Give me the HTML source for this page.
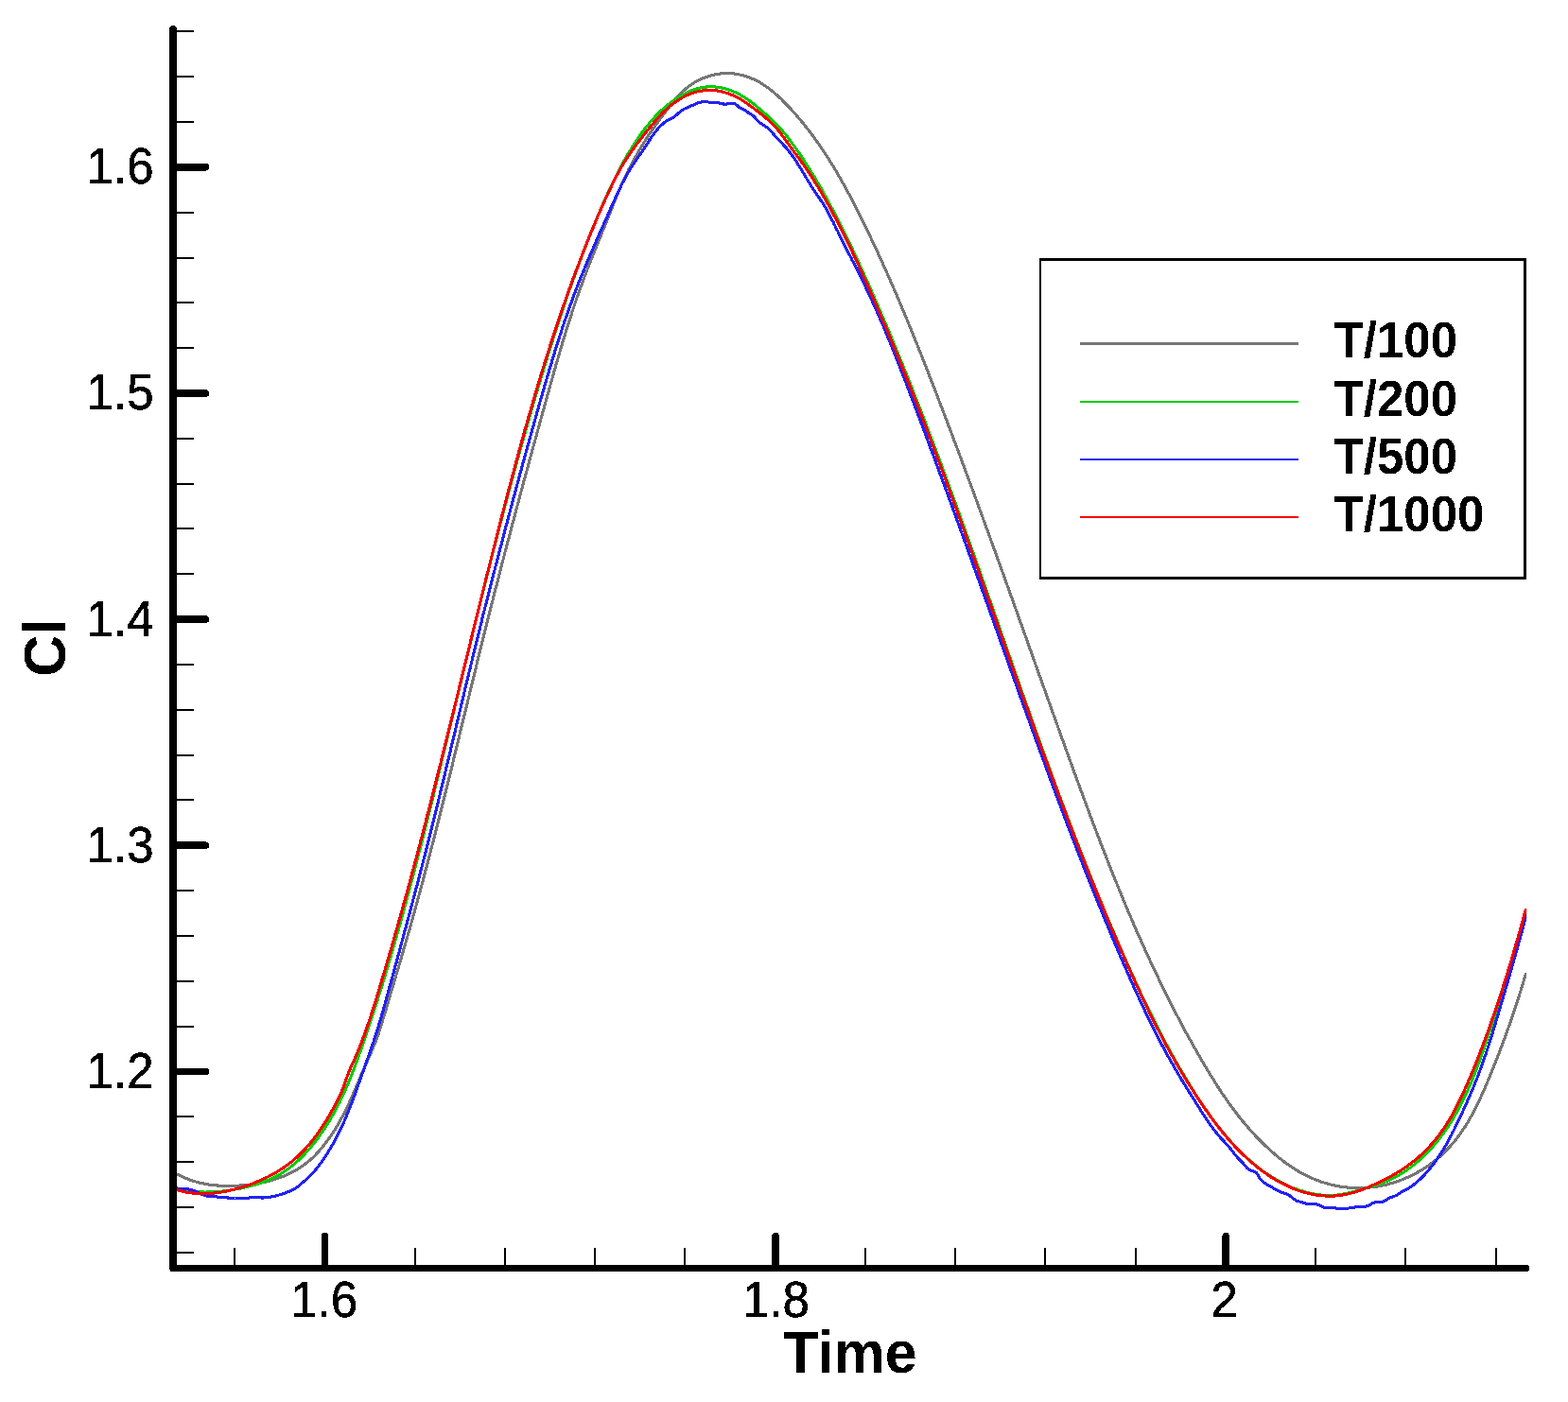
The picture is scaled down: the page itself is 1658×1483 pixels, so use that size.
<!DOCTYPE html>
<html lang="en">
<head>
<meta charset="utf-8">
<title>Cl vs Time</title>
<style>
html,body{margin:0;padding:0;background:#fff;}
body{width:1658px;height:1483px;overflow:hidden;}
svg{display:block;}
text{font-family:"Liberation Sans",Arial,Helvetica,sans-serif;fill:#000;}
.tk{font-size:51px;stroke:#000;stroke-width:0.5px;}
.ttl{font-size:61px;font-weight:bold;}
.lg{font-size:51px;font-weight:bold;}
</style>
</head>
<body>
<svg width="1658" height="1483" viewBox="0 0 1658 1483">
<rect x="0" y="0" width="1658" height="1483" fill="#ffffff"/>
<defs><filter id="crisp" x="-5%" y="-5%" width="110%" height="110%" color-interpolation-filters="sRGB"><feComponentTransfer><feFuncA type="discrete" tableValues="0 1"/></feComponentTransfer></filter></defs>
<defs><clipPath id="plotclip"><rect x="186.5" y="20" width="1427.7" height="1325"/></clipPath></defs>
<g fill="none" stroke-linejoin="round" stroke-linecap="butt" clip-path="url(#plotclip)" shape-rendering="crispEdges">
<path stroke="#767676" stroke-width="3.1" d="M186.9 1241.8L189.2 1243.0L191.5 1244.1L193.8 1245.2L196.1 1246.2L198.5 1247.1L200.8 1248.0L203.2 1248.8L205.6 1249.6L208.0 1250.3L210.4 1250.9L212.8 1251.5L215.2 1252.0L217.6 1252.4L220.1 1252.9L222.5 1253.2L225.0 1253.5L227.4 1253.8L229.9 1254.0L232.4 1254.2L234.8 1254.3L237.3 1254.4L239.8 1254.5L242.3 1254.5L244.8 1254.4L247.3 1254.4L249.8 1254.3L252.3 1254.1L254.8 1254.0L257.3 1253.8L259.9 1253.5L262.4 1253.3L264.9 1253.0L267.4 1252.6L269.9 1252.3L272.4 1251.8L274.8 1251.4L277.3 1250.9L279.8 1250.4L282.2 1249.8L284.7 1249.2L287.1 1248.5L289.5 1247.8L291.9 1247.0L294.3 1246.2L296.6 1245.4L298.9 1244.5L301.2 1243.6L303.5 1242.6L305.8 1241.5L308.0 1240.5L310.2 1239.3L312.3 1238.1L314.5 1236.9L316.6 1235.6L318.6 1234.2L320.7 1232.8L322.7 1231.3L324.6 1229.8L326.5 1228.2L328.4 1226.6L330.3 1224.9L332.1 1223.2L333.8 1221.4L335.5 1219.6L337.2 1217.7L338.9 1215.8L340.5 1213.9L342.1 1211.9L343.6 1209.9L345.1 1207.9L346.6 1205.9L348.1 1203.9L349.5 1201.8L350.9 1199.8L352.3 1197.7L353.7 1195.6L355.0 1193.5L356.3 1191.3L357.6 1189.2L358.8 1187.0L360.0 1184.8L361.2 1182.6L362.4 1180.4L363.5 1178.2L364.7 1176.0L365.8 1173.8L366.9 1171.5L367.9 1169.3L369.0 1167.0L370.0 1164.7L371.1 1162.5L372.1 1160.2L373.1 1157.9L374.1 1155.6L375.1 1153.3L376.1 1151.0L377.1 1148.7L378.1 1146.4L379.0 1144.1L380.0 1141.8L381.0 1139.5L381.9 1137.2L382.9 1134.9L383.9 1132.6L384.9 1130.3L385.9 1128.0L386.9 1125.7L387.9 1123.4L388.9 1121.2L389.9 1118.9L390.9 1116.6L391.9 1114.4L392.9 1112.1L393.9 1109.8L394.8 1107.5L395.8 1105.2L396.7 1103.0L397.6 1100.6L398.5 1098.3L399.3 1096.0L400.2 1093.7L400.9 1091.3L401.7 1089.0L402.5 1086.6L403.2 1084.2L403.9 1081.9L404.6 1079.5L405.3 1077.1L406.0 1074.7L406.7 1072.3L407.5 1069.9L408.2 1067.5L408.9 1065.1L409.6 1062.8L410.3 1060.4L411.0 1058.0L411.7 1055.6L412.4 1053.2L413.1 1050.8L413.8 1048.4L414.6 1046.0L415.3 1043.6L416.0 1041.2L416.7 1038.8L417.4 1036.4L418.1 1034.0L418.8 1031.7L419.6 1029.3L420.3 1026.9L421.0 1024.5L421.7 1022.1L422.4 1019.7L423.1 1017.3L423.8 1014.9L424.5 1012.5L425.2 1010.1L425.9 1007.7L426.6 1005.3L427.3 1002.9L428.0 1000.5L428.7 998.1L429.4 995.7L430.1 993.3L430.8 990.8L431.5 988.4L432.2 986.0L432.9 983.6L433.6 981.2L434.2 978.8L434.9 976.4L435.6 974.0L436.3 971.6L436.9 969.2L437.6 966.8L438.3 964.4L438.9 962.0L439.6 959.5L440.3 957.1L440.9 954.7L441.6 952.3L442.2 949.9L442.9 947.5L443.6 945.1L444.2 942.7L444.9 940.2L445.5 937.8L446.2 935.4L446.8 933.0L447.5 930.6L448.1 928.2L448.7 925.7L449.4 923.3L450.0 920.9L450.7 918.5L451.3 916.1L451.9 913.7L452.6 911.2L453.2 908.8L453.8 906.4L454.4 904.0L455.1 901.6L455.7 899.1L456.3 896.7L456.9 894.3L457.6 891.9L458.2 889.4L458.8 887.0L459.4 884.6L460.0 882.2L460.7 879.8L461.3 877.3L461.9 874.9L462.5 872.5L463.1 870.1L463.7 867.6L464.3 865.2L465.0 862.8L465.6 860.4L466.2 857.9L466.8 855.5L467.4 853.1L468.0 850.7L468.6 848.2L469.2 845.8L469.8 843.4L470.4 841.0L471.0 838.5L471.6 836.1L472.2 833.7L472.8 831.2L473.4 828.8L474.0 826.4L474.6 824.0L475.2 821.5L475.8 819.1L476.4 816.7L477.0 814.2L477.6 811.8L478.2 809.4L478.8 807.0L479.3 804.5L479.9 802.1L480.5 799.7L481.1 797.2L481.7 794.8L482.3 792.4L482.9 790.0L483.5 787.5L484.1 785.1L484.7 782.7L485.3 780.2L485.8 777.8L486.4 775.4L487.0 772.9L487.6 770.5L488.2 768.1L488.8 765.7L489.4 763.2L490.0 760.8L490.6 758.4L491.2 755.9L491.7 753.5L492.3 751.1L492.9 748.7L493.5 746.2L494.1 743.8L494.7 741.4L495.3 738.9L495.9 736.5L496.5 734.1L497.0 731.6L497.6 729.2L498.2 726.8L498.8 724.4L499.4 721.9L500.0 719.5L500.6 717.1L501.2 714.6L501.8 712.2L502.4 709.8L503.0 707.4L503.6 704.9L504.1 702.5L504.7 700.1L505.3 697.6L505.9 695.2L506.5 692.8L507.1 690.4L507.7 687.9L508.3 685.5L508.9 683.1L509.5 680.6L510.1 678.2L510.7 675.8L511.3 673.4L511.9 670.9L512.5 668.5L513.1 666.1L513.7 663.7L514.3 661.2L514.9 658.8L515.6 656.4L516.2 654.0L516.8 651.5L517.4 649.1L518.0 646.7L518.6 644.3L519.2 641.8L519.8 639.4L520.4 637.0L521.1 634.6L521.7 632.2L522.3 629.7L522.9 627.3L523.5 624.9L524.1 622.5L524.8 620.0L525.4 617.6L526.0 615.2L526.6 612.8L527.2 610.4L527.9 607.9L528.5 605.5L529.1 603.1L529.7 600.7L530.4 598.3L531.0 595.8L531.6 593.4L532.3 591.0L532.9 588.6L533.5 586.2L534.1 583.7L534.8 581.3L535.4 578.9L536.0 576.5L536.7 574.1L537.3 571.7L538.0 569.2L538.6 566.8L539.2 564.4L539.9 562.0L540.5 559.6L541.1 557.1L541.8 554.7L542.4 552.3L543.1 549.9L543.7 547.5L544.3 545.1L545.0 542.6L545.6 540.2L546.3 537.8L546.9 535.4L547.6 533.0L548.2 530.6L548.9 528.2L549.5 525.7L550.1 523.3L550.8 520.9L551.4 518.5L552.1 516.1L552.7 513.7L553.4 511.2L554.0 508.8L554.7 506.4L555.4 504.0L556.0 501.6L556.7 499.2L557.3 496.8L558.0 494.4L558.6 491.9L559.3 489.5L559.9 487.1L560.6 484.7L561.2 482.3L561.9 479.9L562.6 477.5L563.2 475.0L563.9 472.6L564.5 470.2L565.2 467.8L565.9 465.4L566.5 463.0L567.2 460.6L567.9 458.2L568.5 455.7L569.2 453.3L569.8 450.9L570.5 448.5L571.2 446.1L571.8 443.7L572.5 441.3L573.2 438.9L573.8 436.4L574.5 434.0L575.2 431.6L575.8 429.2L576.5 426.8L577.2 424.4L577.8 422.0L578.5 419.6L579.2 417.2L579.9 414.7L580.5 412.3L581.2 409.9L581.9 407.5L582.5 405.1L583.2 402.7L583.9 400.3L584.6 397.9L585.3 395.5L585.9 393.1L586.6 390.6L587.3 388.2L588.0 385.8L588.7 383.4L589.4 381.0L590.1 378.6L590.8 376.2L591.5 373.8L592.2 371.4L592.9 369.0L593.6 366.6L594.3 364.2L595.0 361.8L595.7 359.4L596.5 357.0L597.2 354.6L597.9 352.3L598.7 349.9L599.4 347.5L600.2 345.1L600.9 342.7L601.7 340.3L602.4 337.9L603.2 335.6L604.0 333.2L604.7 330.8L605.5 328.4L606.3 326.1L607.1 323.7L607.9 321.3L608.7 319.0L609.5 316.6L610.3 314.2L611.1 311.9L612.0 309.5L612.8 307.2L613.6 304.8L614.5 302.5L615.4 300.1L616.2 297.8L617.1 295.4L618.0 293.1L618.9 290.8L619.7 288.4L620.6 286.1L621.5 283.8L622.4 281.4L623.4 279.1L624.3 276.8L625.2 274.5L626.1 272.1L627.0 269.8L628.0 267.5L628.9 265.2L629.8 262.9L630.8 260.5L631.7 258.2L632.6 255.9L633.6 253.6L634.5 251.3L635.5 249.0L636.4 246.6L637.3 244.3L638.3 242.0L639.2 239.7L640.2 237.4L641.1 235.0L642.0 232.7L643.0 230.4L643.9 228.1L644.8 225.7L645.7 223.4L646.7 221.1L647.6 218.8L648.5 216.4L649.4 214.1L650.3 211.8L651.3 209.4L652.2 207.1L653.2 204.8L654.1 202.5L655.1 200.2L656.1 197.9L657.1 195.6L658.1 193.3L659.1 191.1L660.2 188.8L661.3 186.5L662.4 184.3L663.5 182.0L664.6 179.8L665.7 177.6L666.9 175.4L668.0 173.2L669.2 171.0L670.4 168.8L671.6 166.6L672.8 164.4L674.1 162.3L675.3 160.1L676.6 158.0L677.9 155.8L679.2 153.7L680.5 151.6L681.8 149.4L683.2 147.3L684.5 145.2L685.9 143.1L687.3 141.1L688.7 139.0L690.1 136.9L691.5 134.9L693.0 132.8L694.4 130.8L695.9 128.7L697.4 126.7L698.8 124.7L700.3 122.7L701.8 120.7L703.3 118.7L704.9 116.7L706.4 114.7L707.9 112.8L709.5 110.8L711.0 108.9L712.6 106.9L714.2 105.0L715.8 103.2L717.4 101.3L719.1 99.5L720.9 97.8L722.7 96.1L724.5 94.4L726.4 92.9L728.4 91.3L730.4 89.9L732.5 88.5L734.6 87.2L736.8 85.9L739.1 84.8L741.3 83.7L743.6 82.7L746.0 81.8L748.4 80.9L750.8 80.2L753.2 79.5L755.6 79.0L758.1 78.5L760.6 78.1L763.1 77.8L765.6 77.6L768.1 77.6L770.6 77.6L773.1 77.7L775.6 77.9L778.0 78.2L780.5 78.7L783.0 79.2L785.4 79.8L787.8 80.4L790.2 81.2L792.5 82.1L794.9 83.0L797.2 84.0L799.4 85.1L801.6 86.2L803.8 87.4L806.0 88.7L808.0 90.1L810.1 91.5L812.1 92.9L814.1 94.4L816.1 96.0L818.0 97.6L819.9 99.2L821.8 100.9L823.6 102.6L825.5 104.3L827.3 106.1L829.0 107.9L830.8 109.7L832.5 111.5L834.3 113.3L836.0 115.1L837.7 117.0L839.4 118.8L841.0 120.7L842.7 122.6L844.3 124.5L845.9 126.4L847.5 128.3L849.1 130.2L850.6 132.2L852.2 134.1L853.7 136.1L855.3 138.1L856.8 140.0L858.3 142.0L859.8 144.0L861.2 146.1L862.7 148.1L864.1 150.1L865.6 152.1L867.0 154.2L868.4 156.2L869.8 158.3L871.2 160.4L872.5 162.5L873.9 164.6L875.2 166.7L876.6 168.8L877.9 170.9L879.2 173.0L880.5 175.1L881.8 177.3L883.1 179.4L884.4 181.5L885.6 183.7L886.9 185.9L888.1 188.0L889.4 190.2L890.6 192.4L891.8 194.5L893.0 196.7L894.2 198.9L895.4 201.1L896.6 203.3L897.8 205.5L899.0 207.7L900.2 210.0L901.3 212.2L902.5 214.4L903.6 216.6L904.8 218.9L905.9 221.1L907.0 223.3L908.2 225.6L909.3 227.8L910.4 230.1L911.5 232.3L912.6 234.5L913.7 236.8L914.8 239.0L915.9 241.3L917.0 243.6L918.1 245.8L919.2 248.1L920.2 250.3L921.3 252.6L922.4 254.9L923.4 257.1L924.5 259.4L925.6 261.7L926.6 263.9L927.7 266.2L928.7 268.5L929.8 270.7L930.8 273.0L931.8 275.3L932.9 277.6L933.9 279.9L934.9 282.1L935.9 284.4L937.0 286.7L938.0 289.0L939.0 291.3L940.0 293.6L941.0 295.9L942.0 298.1L943.0 300.4L944.0 302.7L945.0 305.0L946.0 307.3L947.0 309.6L948.0 311.9L949.0 314.2L949.9 316.5L950.9 318.8L951.9 321.1L952.9 323.4L953.8 325.7L954.8 328.0L955.8 330.3L956.7 332.6L957.7 334.9L958.7 337.3L959.6 339.6L960.6 341.9L961.5 344.2L962.5 346.5L963.4 348.8L964.3 351.1L965.3 353.4L966.2 355.8L967.2 358.1L968.1 360.4L969.0 362.7L970.0 365.0L970.9 367.4L971.8 369.7L972.8 372.0L973.7 374.3L974.6 376.6L975.5 379.0L976.4 381.3L977.4 383.6L978.3 385.9L979.2 388.3L980.1 390.6L981.0 392.9L981.9 395.2L982.8 397.6L983.7 399.9L984.6 402.2L985.5 404.6L986.5 406.9L987.4 409.2L988.3 411.6L989.2 413.9L990.1 416.2L991.0 418.6L991.8 420.9L992.7 423.2L993.6 425.6L994.5 427.9L995.4 430.2L996.3 432.6L997.2 434.9L998.1 437.2L999.0 439.6L999.9 441.9L1000.8 444.2L1001.7 446.6L1002.5 448.9L1003.4 451.2L1004.3 453.6L1005.2 455.9L1006.1 458.3L1007.0 460.6L1007.8 462.9L1008.7 465.3L1009.6 467.6L1010.5 470.0L1011.4 472.3L1012.2 474.6L1013.1 477.0L1014.0 479.3L1014.9 481.7L1015.7 484.0L1016.6 486.3L1017.5 488.7L1018.3 491.0L1019.2 493.4L1020.1 495.7L1021.0 498.1L1021.8 500.4L1022.7 502.7L1023.6 505.1L1024.4 507.4L1025.3 509.8L1026.2 512.1L1027.0 514.5L1027.9 516.8L1028.8 519.1L1029.6 521.5L1030.5 523.8L1031.3 526.2L1032.2 528.5L1033.1 530.9L1033.9 533.2L1034.8 535.6L1035.6 537.9L1036.5 540.3L1037.4 542.6L1038.2 545.0L1039.1 547.3L1039.9 549.7L1040.8 552.0L1041.6 554.4L1042.5 556.7L1043.4 559.1L1044.2 561.4L1045.1 563.8L1045.9 566.1L1046.8 568.5L1047.6 570.8L1048.5 573.2L1049.3 575.5L1050.2 577.9L1051.0 580.2L1051.9 582.6L1052.7 584.9L1053.6 587.3L1054.4 589.6L1055.3 592.0L1056.1 594.3L1057.0 596.7L1057.8 599.0L1058.7 601.4L1059.5 603.7L1060.4 606.1L1061.2 608.4L1062.1 610.8L1062.9 613.1L1063.7 615.5L1064.6 617.8L1065.4 620.2L1066.3 622.5L1067.1 624.9L1068.0 627.2L1068.8 629.6L1069.7 631.9L1070.5 634.3L1071.3 636.7L1072.2 639.0L1073.0 641.4L1073.9 643.7L1074.7 646.1L1075.6 648.4L1076.4 650.8L1077.2 653.1L1078.1 655.5L1078.9 657.8L1079.8 660.2L1080.6 662.6L1081.5 664.9L1082.3 667.3L1083.1 669.6L1084.0 672.0L1084.8 674.3L1085.7 676.7L1086.5 679.0L1087.3 681.4L1088.2 683.7L1089.0 686.1L1089.9 688.5L1090.7 690.8L1091.5 693.2L1092.4 695.5L1093.2 697.9L1094.1 700.2L1094.9 702.6L1095.7 704.9L1096.6 707.3L1097.4 709.7L1098.3 712.0L1099.1 714.4L1100.0 716.7L1100.8 719.1L1101.6 721.4L1102.5 723.8L1103.3 726.1L1104.2 728.5L1105.0 730.9L1105.8 733.2L1106.7 735.6L1107.5 737.9L1108.4 740.3L1109.2 742.6L1110.1 745.0L1110.9 747.3L1111.7 749.7L1112.6 752.1L1113.4 754.4L1114.3 756.8L1115.1 759.1L1116.0 761.5L1116.8 763.8L1117.7 766.2L1118.5 768.5L1119.3 770.9L1120.2 773.3L1121.0 775.6L1121.9 778.0L1122.7 780.3L1123.6 782.7L1124.4 785.0L1125.3 787.4L1126.1 789.7L1127.0 792.1L1127.8 794.4L1128.7 796.8L1129.5 799.2L1130.4 801.5L1131.2 803.9L1132.1 806.2L1132.9 808.6L1133.8 810.9L1134.6 813.3L1135.5 815.6L1136.3 818.0L1137.2 820.3L1138.1 822.7L1138.9 825.0L1139.8 827.4L1140.6 829.7L1141.5 832.1L1142.4 834.4L1143.2 836.8L1144.1 839.1L1145.0 841.5L1145.8 843.8L1146.7 846.2L1147.6 848.5L1148.4 850.9L1149.3 853.2L1150.2 855.5L1151.0 857.9L1151.9 860.2L1152.8 862.6L1153.7 864.9L1154.6 867.3L1155.4 869.6L1156.3 871.9L1157.2 874.3L1158.1 876.6L1159.0 879.0L1159.9 881.3L1160.8 883.6L1161.7 886.0L1162.6 888.3L1163.4 890.6L1164.3 893.0L1165.2 895.3L1166.2 897.6L1167.1 900.0L1168.0 902.3L1168.9 904.6L1169.8 907.0L1170.7 909.3L1171.6 911.6L1172.5 913.9L1173.5 916.3L1174.4 918.6L1175.3 920.9L1176.2 923.2L1177.2 925.5L1178.1 927.9L1179.0 930.2L1180.0 932.5L1180.9 934.8L1181.8 937.1L1182.8 939.4L1183.7 941.8L1184.7 944.1L1185.6 946.4L1186.6 948.7L1187.5 951.0L1188.5 953.3L1189.5 955.6L1190.4 957.9L1191.4 960.2L1192.4 962.5L1193.3 964.8L1194.3 967.1L1195.3 969.4L1196.3 971.7L1197.3 974.0L1198.2 976.3L1199.2 978.6L1200.2 980.9L1201.2 983.2L1202.2 985.5L1203.2 987.8L1204.2 990.0L1205.3 992.3L1206.3 994.6L1207.3 996.9L1208.3 999.2L1209.3 1001.4L1210.4 1003.7L1211.4 1006.0L1212.4 1008.3L1213.5 1010.5L1214.5 1012.8L1215.6 1015.1L1216.6 1017.3L1217.7 1019.6L1218.7 1021.9L1219.8 1024.1L1220.9 1026.4L1221.9 1028.6L1223.0 1030.9L1224.1 1033.1L1225.2 1035.4L1226.2 1037.6L1227.3 1039.9L1228.4 1042.1L1229.5 1044.4L1230.6 1046.6L1231.7 1048.9L1232.8 1051.1L1233.9 1053.3L1235.1 1055.6L1236.2 1057.8L1237.3 1060.0L1238.4 1062.3L1239.6 1064.5L1240.7 1066.7L1241.9 1069.0L1243.0 1071.2L1244.2 1073.4L1245.3 1075.6L1246.5 1077.8L1247.6 1080.0L1248.8 1082.2L1250.0 1084.5L1251.2 1086.7L1252.4 1088.9L1253.5 1091.1L1254.7 1093.3L1255.9 1095.5L1257.1 1097.7L1258.4 1099.8L1259.6 1102.0L1260.8 1104.2L1262.0 1106.4L1263.2 1108.6L1264.5 1110.8L1265.7 1113.0L1267.0 1115.1L1268.2 1117.3L1269.5 1119.5L1270.7 1121.6L1272.0 1123.8L1273.3 1126.0L1274.5 1128.1L1275.8 1130.3L1277.1 1132.4L1278.4 1134.6L1279.7 1136.7L1281.0 1138.9L1282.4 1141.0L1283.7 1143.1L1285.0 1145.3L1286.4 1147.4L1287.7 1149.5L1289.1 1151.6L1290.5 1153.7L1291.8 1155.8L1293.2 1157.8L1294.6 1159.9L1296.1 1162.0L1297.5 1164.0L1298.9 1166.1L1300.4 1168.1L1301.8 1170.1L1303.3 1172.1L1304.8 1174.1L1306.3 1176.1L1307.8 1178.1L1309.3 1180.1L1310.9 1182.0L1312.4 1184.0L1314.0 1185.9L1315.6 1187.8L1317.2 1189.8L1318.8 1191.6L1320.4 1193.5L1322.0 1195.4L1323.7 1197.2L1325.4 1199.1L1327.1 1200.9L1328.8 1202.7L1330.5 1204.5L1332.2 1206.3L1334.0 1208.0L1335.8 1209.8L1337.6 1211.5L1339.4 1213.2L1341.2 1214.9L1343.1 1216.6L1344.9 1218.3L1346.8 1219.9L1348.8 1221.6L1350.7 1223.2L1352.6 1224.8L1354.6 1226.3L1356.6 1227.9L1358.6 1229.4L1360.7 1230.9L1362.7 1232.4L1364.8 1233.8L1366.9 1235.2L1369.0 1236.6L1371.2 1237.9L1373.3 1239.2L1375.5 1240.4L1377.7 1241.6L1379.9 1242.8L1382.1 1243.9L1384.4 1245.0L1386.7 1246.0L1389.0 1247.0L1391.3 1247.9L1393.6 1248.8L1395.9 1249.7L1398.3 1250.5L1400.6 1251.2L1403.0 1251.9L1405.4 1252.6L1407.8 1253.2L1410.2 1253.8L1412.6 1254.3L1415.1 1254.7L1417.5 1255.1L1420.0 1255.5L1422.4 1255.8L1424.9 1256.1L1427.4 1256.3L1429.8 1256.5L1432.3 1256.6L1434.8 1256.7L1437.3 1256.7L1439.8 1256.6L1442.3 1256.5L1444.8 1256.4L1447.3 1256.2L1449.8 1255.9L1452.3 1255.6L1454.8 1255.3L1457.2 1254.9L1459.7 1254.4L1462.2 1253.9L1464.7 1253.4L1467.1 1252.8L1469.6 1252.1L1472.0 1251.4L1474.4 1250.7L1476.8 1249.9L1479.2 1249.1L1481.6 1248.2L1483.9 1247.3L1486.2 1246.3L1488.5 1245.3L1490.8 1244.3L1493.1 1243.2L1495.3 1242.0L1497.5 1240.9L1499.7 1239.6L1501.9 1238.4L1504.0 1237.1L1506.1 1235.8L1508.2 1234.4L1510.3 1233.0L1512.3 1231.5L1514.3 1230.1L1516.3 1228.5L1518.2 1227.0L1520.1 1225.4L1522.0 1223.8L1523.8 1222.1L1525.6 1220.4L1527.4 1218.7L1529.2 1217.0L1530.9 1215.2L1532.6 1213.4L1534.3 1211.5L1535.9 1209.7L1537.5 1207.8L1539.1 1205.8L1540.6 1203.9L1542.1 1201.9L1543.6 1199.9L1545.0 1197.9L1546.4 1195.8L1547.8 1193.8L1549.2 1191.7L1550.5 1189.6L1551.8 1187.4L1553.1 1185.3L1554.3 1183.1L1555.6 1180.9L1556.8 1178.8L1558.0 1176.5L1559.1 1174.3L1560.3 1172.1L1561.4 1169.8L1562.5 1167.6L1563.6 1165.3L1564.7 1163.0L1565.7 1160.7L1566.8 1158.4L1567.8 1156.1L1568.9 1153.8L1569.9 1151.5L1570.9 1149.1L1571.8 1146.8L1572.8 1144.5L1573.8 1142.2L1574.8 1139.8L1575.7 1137.5L1576.7 1135.2L1577.6 1132.9L1578.6 1130.5L1579.5 1128.2L1580.4 1125.9L1581.3 1123.6L1582.3 1121.2L1583.2 1118.9L1584.1 1116.6L1585.0 1114.3L1585.9 1111.9L1586.7 1109.6L1587.6 1107.3L1588.5 1104.9L1589.4 1102.6L1590.2 1100.3L1591.1 1097.9L1591.9 1095.6L1592.8 1093.3L1593.6 1090.9L1594.4 1088.6L1595.3 1086.2L1596.1 1083.9L1596.9 1081.6L1597.7 1079.2L1598.5 1076.8L1599.3 1074.5L1600.1 1072.1L1600.9 1069.8L1601.7 1067.4L1602.5 1065.0L1603.3 1062.7L1604.1 1060.3L1604.8 1057.9L1605.6 1055.5L1606.4 1053.2L1607.1 1050.8L1607.9 1048.4L1608.6 1046.0L1609.3 1043.6L1610.1 1041.2L1610.8 1038.8L1611.5 1036.3L1612.3 1033.9L1613.0 1031.5L1613.7 1029.1"/>
<path stroke="#00cc00" stroke-width="3.1" d="M186.9 1257.5L189.4 1258.1L191.9 1258.6L194.4 1259.1L196.8 1259.5L199.3 1259.8L201.8 1260.2L204.3 1260.4L206.8 1260.6L209.3 1260.8L211.8 1260.9L214.2 1261.0L216.7 1261.1L219.2 1261.0L221.7 1261.0L224.2 1260.9L226.7 1260.8L229.1 1260.6L231.6 1260.4L234.1 1260.2L236.6 1259.9L239.1 1259.6L241.5 1259.2L244.0 1258.9L246.5 1258.5L249.0 1258.0L251.4 1257.6L253.9 1257.1L256.4 1256.6L258.8 1256.0L261.3 1255.4L263.7 1254.8L266.2 1254.2L268.6 1253.5L271.0 1252.8L273.4 1252.0L275.8 1251.2L278.2 1250.4L280.5 1249.5L282.8 1248.6L285.1 1247.6L287.4 1246.6L289.7 1245.5L291.9 1244.3L294.1 1243.2L296.2 1241.9L298.4 1240.6L300.5 1239.3L302.5 1237.9L304.6 1236.5L306.5 1235.0L308.5 1233.4L310.4 1231.9L312.4 1230.2L314.2 1228.6L316.1 1226.9L317.9 1225.1L319.7 1223.3L321.4 1221.5L323.1 1219.7L324.8 1217.8L326.5 1216.0L328.2 1214.0L329.8 1212.1L331.3 1210.2L332.9 1208.2L334.4 1206.2L335.9 1204.2L337.4 1202.2L338.9 1200.1L340.3 1198.1L341.7 1196.0L343.1 1193.9L344.4 1191.8L345.8 1189.7L347.1 1187.6L348.4 1185.5L349.6 1183.4L350.9 1181.2L352.1 1179.1L353.3 1176.9L354.5 1174.7L355.7 1172.5L356.8 1170.3L357.9 1168.1L359.1 1165.9L360.1 1163.6L361.2 1161.4L362.3 1159.1L363.3 1156.9L364.4 1154.6L365.4 1152.3L366.4 1150.0L367.4 1147.8L368.3 1145.5L369.3 1143.2L370.3 1140.8L371.2 1138.5L372.1 1136.2L373.0 1133.9L373.9 1131.5L374.8 1129.2L375.7 1126.9L376.6 1124.5L377.5 1122.2L378.3 1119.8L379.2 1117.5L380.0 1115.1L380.9 1112.7L381.7 1110.4L382.5 1108.0L383.3 1105.6L384.2 1103.3L385.0 1100.9L385.8 1098.5L386.6 1096.1L387.4 1093.8L388.2 1091.4L389.0 1089.0L389.8 1086.6L390.6 1084.3L391.4 1081.9L392.1 1079.5L392.9 1077.1L393.7 1074.7L394.5 1072.4L395.3 1070.0L396.0 1067.6L396.8 1065.2L397.5 1062.8L398.3 1060.4L399.1 1058.0L399.8 1055.7L400.6 1053.3L401.3 1050.9L402.1 1048.5L402.8 1046.1L403.5 1043.7L404.3 1041.3L405.0 1038.9L405.7 1036.5L406.5 1034.1L407.2 1031.7L407.9 1029.3L408.6 1026.9L409.4 1024.6L410.1 1022.2L410.8 1019.8L411.5 1017.4L412.2 1015.0L412.9 1012.6L413.6 1010.2L414.3 1007.8L415.0 1005.4L415.7 1003.0L416.4 1000.6L417.1 998.1L417.8 995.7L418.5 993.3L419.2 990.9L419.8 988.5L420.5 986.1L421.2 983.7L421.9 981.3L422.6 978.9L423.2 976.5L423.9 974.1L424.6 971.7L425.2 969.3L425.9 966.9L426.6 964.4L427.2 962.0L427.9 959.6L428.5 957.2L429.2 954.8L429.8 952.4L430.5 950.0L431.1 947.6L431.8 945.1L432.4 942.7L433.1 940.3L433.7 937.9L434.3 935.5L435.0 933.1L435.6 930.6L436.3 928.2L436.9 925.8L437.5 923.4L438.2 921.0L438.8 918.6L439.4 916.1L440.0 913.7L440.7 911.3L441.3 908.9L441.9 906.4L442.5 904.0L443.1 901.6L443.8 899.2L444.4 896.8L445.0 894.3L445.6 891.9L446.2 889.5L446.8 887.1L447.4 884.6L448.1 882.2L448.7 879.8L449.3 877.4L449.9 874.9L450.5 872.5L451.1 870.1L451.7 867.7L452.3 865.2L452.9 862.8L453.5 860.4L454.1 858.0L454.7 855.5L455.3 853.1L455.9 850.7L456.5 848.3L457.1 845.8L457.7 843.4L458.3 841.0L458.9 838.5L459.5 836.1L460.1 833.7L460.7 831.3L461.3 828.8L461.8 826.4L462.4 824.0L463.0 821.5L463.6 819.1L464.2 816.7L464.8 814.2L465.4 811.8L466.0 809.4L466.6 807.0L467.1 804.5L467.7 802.1L468.3 799.7L468.9 797.2L469.5 794.8L470.1 792.4L470.7 789.9L471.3 787.5L471.8 785.1L472.4 782.6L473.0 780.2L473.6 777.8L474.2 775.3L474.8 772.9L475.4 770.5L475.9 768.1L476.5 765.6L477.1 763.2L477.7 760.8L478.3 758.3L478.9 755.9L479.5 753.5L480.1 751.0L480.6 748.6L481.2 746.2L481.8 743.7L482.4 741.3L483.0 738.9L483.6 736.4L484.2 734.0L484.8 731.6L485.3 729.2L485.9 726.7L486.5 724.3L487.1 721.9L487.7 719.4L488.3 717.0L488.9 714.6L489.5 712.1L490.1 709.7L490.6 707.3L491.2 704.8L491.8 702.4L492.4 700.0L493.0 697.6L493.6 695.1L494.2 692.7L494.8 690.3L495.4 687.8L496.0 685.4L496.6 683.0L497.2 680.5L497.8 678.1L498.4 675.7L499.0 673.2L499.5 670.8L500.1 668.4L500.7 666.0L501.3 663.5L501.9 661.1L502.5 658.7L503.1 656.2L503.7 653.8L504.3 651.4L504.9 649.0L505.5 646.5L506.1 644.1L506.7 641.7L507.3 639.2L508.0 636.8L508.6 634.4L509.2 632.0L509.8 629.5L510.4 627.1L511.0 624.7L511.6 622.3L512.2 619.8L512.8 617.4L513.4 615.0L514.0 612.5L514.6 610.1L515.3 607.7L515.9 605.3L516.5 602.8L517.1 600.4L517.7 598.0L518.3 595.6L518.9 593.1L519.6 590.7L520.2 588.3L520.8 585.9L521.4 583.5L522.0 581.0L522.7 578.6L523.3 576.2L523.9 573.8L524.5 571.3L525.2 568.9L525.8 566.5L526.4 564.1L527.0 561.6L527.7 559.2L528.3 556.8L528.9 554.4L529.6 552.0L530.2 549.5L530.8 547.1L531.5 544.7L532.1 542.3L532.8 539.9L533.4 537.4L534.0 535.0L534.7 532.6L535.3 530.2L536.0 527.8L536.6 525.4L537.3 522.9L537.9 520.5L538.5 518.1L539.2 515.7L539.8 513.3L540.5 510.9L541.1 508.4L541.8 506.0L542.5 503.6L543.1 501.2L543.8 498.8L544.4 496.4L545.1 494.0L545.8 491.5L546.4 489.1L547.1 486.7L547.7 484.3L548.4 481.9L549.1 479.5L549.7 477.1L550.4 474.7L551.1 472.3L551.8 469.8L552.4 467.4L553.1 465.0L553.8 462.6L554.5 460.2L555.2 457.8L555.8 455.4L556.5 453.0L557.2 450.6L557.9 448.2L558.6 445.8L559.3 443.4L560.0 441.0L560.7 438.6L561.3 436.2L562.0 433.8L562.7 431.3L563.4 428.9L564.1 426.5L564.8 424.1L565.5 421.7L566.2 419.3L567.0 416.9L567.7 414.5L568.4 412.1L569.1 409.7L569.8 407.3L570.5 404.9L571.2 402.5L572.0 400.1L572.7 397.8L573.4 395.4L574.1 393.0L574.8 390.6L575.6 388.2L576.3 385.8L577.0 383.4L577.8 381.0L578.5 378.6L579.3 376.2L580.0 373.8L580.7 371.4L581.5 369.0L582.2 366.7L583.0 364.3L583.8 361.9L584.5 359.5L585.3 357.1L586.0 354.7L586.8 352.4L587.6 350.0L588.3 347.6L589.1 345.2L589.9 342.8L590.7 340.5L591.5 338.1L592.2 335.7L593.0 333.3L593.8 331.0L594.6 328.6L595.4 326.2L596.2 323.9L597.0 321.5L597.8 319.1L598.7 316.8L599.5 314.4L600.3 312.0L601.1 309.7L601.9 307.3L602.8 305.0L603.6 302.6L604.4 300.2L605.3 297.9L606.1 295.5L607.0 293.2L607.8 290.8L608.7 288.5L609.5 286.1L610.4 283.8L611.3 281.5L612.1 279.1L613.0 276.8L613.9 274.4L614.8 272.1L615.7 269.8L616.6 267.4L617.4 265.1L618.3 262.8L619.3 260.4L620.2 258.1L621.1 255.8L622.0 253.5L622.9 251.1L623.8 248.8L624.8 246.5L625.7 244.2L626.6 241.9L627.6 239.5L628.5 237.2L629.5 234.9L630.5 232.6L631.4 230.3L632.4 228.0L633.4 225.7L634.3 223.4L635.3 221.1L636.3 218.8L637.3 216.5L638.3 214.2L639.3 211.9L640.3 209.7L641.4 207.4L642.4 205.1L643.4 202.8L644.5 200.6L645.5 198.3L646.6 196.0L647.7 193.8L648.8 191.5L649.9 189.3L651.0 187.0L652.1 184.8L653.2 182.6L654.4 180.4L655.5 178.1L656.7 175.9L657.9 173.7L659.1 171.5L660.3 169.4L661.6 167.2L662.8 165.0L664.1 162.8L665.4 160.7L666.7 158.6L668.0 156.4L669.3 154.3L670.7 152.2L672.0 150.1L673.4 148.0L674.8 145.9L676.3 143.9L677.7 141.8L679.2 139.8L680.7 137.8L682.2 135.8L683.8 133.8L685.4 131.9L687.0 129.9L688.6 128.0L690.2 126.2L691.9 124.3L693.6 122.5L695.4 120.7L697.1 118.9L698.9 117.2L700.8 115.5L702.6 113.8L704.5 112.2L706.5 110.6L708.4 109.1L710.4 107.6L712.5 106.1L714.5 104.6L716.6 103.3L718.8 101.9L720.9 100.7L723.1 99.5L725.3 98.3L727.6 97.3L729.9 96.3L732.2 95.4L734.5 94.6L736.9 93.9L739.3 93.3L741.7 92.7L744.1 92.3L746.6 92.0L749.1 91.9L751.6 91.8L754.1 91.9L756.7 92.0L759.2 92.3L761.7 92.7L764.1 93.2L766.6 93.8L769.0 94.5L771.4 95.3L773.7 96.1L776.1 97.1L778.4 98.1L780.6 99.2L782.8 100.4L785.0 101.6L787.1 102.9L789.2 104.3L791.2 105.7L793.2 107.2L795.2 108.7L797.2 110.2L799.1 111.8L801.0 113.4L802.9 115.0L804.8 116.6L806.7 118.2L808.6 119.8L810.5 121.5L812.4 123.1L814.2 124.8L816.1 126.5L817.9 128.2L819.6 130.0L821.4 131.8L823.1 133.6L824.8 135.4L826.4 137.3L828.0 139.2L829.6 141.1L831.2 143.1L832.8 145.0L834.3 147.0L835.8 149.0L837.3 151.0L838.7 153.1L840.2 155.1L841.6 157.2L843.1 159.2L844.5 161.3L845.9 163.3L847.3 165.4L848.7 167.5L850.1 169.6L851.4 171.7L852.8 173.8L854.1 175.9L855.5 178.0L856.8 180.1L858.1 182.3L859.4 184.4L860.7 186.5L862.0 188.7L863.3 190.8L864.5 193.0L865.8 195.1L867.1 197.3L868.3 199.5L869.5 201.6L870.8 203.8L872.0 206.0L873.2 208.2L874.4 210.4L875.6 212.6L876.8 214.8L878.0 217.0L879.1 219.2L880.3 221.4L881.5 223.6L882.6 225.8L883.8 228.0L884.9 230.2L886.1 232.5L887.2 234.7L888.4 236.9L889.5 239.2L890.6 241.4L891.7 243.6L892.8 245.9L893.9 248.1L895.0 250.4L896.1 252.6L897.2 254.9L898.3 257.1L899.4 259.4L900.4 261.7L901.5 263.9L902.6 266.2L903.6 268.4L904.7 270.7L905.8 273.0L906.8 275.3L907.9 277.5L908.9 279.8L909.9 282.1L911.0 284.4L912.0 286.6L913.0 288.9L914.1 291.2L915.1 293.5L916.1 295.8L917.1 298.1L918.2 300.3L919.2 302.6L920.2 304.9L921.2 307.2L922.2 309.5L923.2 311.8L924.2 314.1L925.2 316.4L926.2 318.7L927.2 321.0L928.2 323.3L929.2 325.5L930.2 327.8L931.2 330.1L932.2 332.4L933.1 334.7L934.1 337.0L935.1 339.3L936.1 341.6L937.1 343.9L938.0 346.3L939.0 348.6L940.0 350.9L940.9 353.2L941.9 355.5L942.9 357.8L943.8 360.1L944.8 362.4L945.7 364.7L946.7 367.0L947.6 369.3L948.6 371.6L949.5 374.0L950.5 376.3L951.4 378.6L952.4 380.9L953.3 383.2L954.3 385.5L955.2 387.9L956.1 390.2L957.1 392.5L958.0 394.8L958.9 397.1L959.9 399.5L960.8 401.8L961.7 404.1L962.6 406.4L963.6 408.7L964.5 411.1L965.4 413.4L966.3 415.7L967.2 418.1L968.1 420.4L969.0 422.7L970.0 425.0L970.9 427.4L971.8 429.7L972.7 432.0L973.6 434.4L974.5 436.7L975.4 439.0L976.3 441.4L977.2 443.7L978.1 446.0L979.0 448.4L979.9 450.7L980.8 453.0L981.6 455.4L982.5 457.7L983.4 460.0L984.3 462.4L985.2 464.7L986.1 467.0L987.0 469.4L987.8 471.7L988.7 474.1L989.6 476.4L990.5 478.7L991.4 481.1L992.2 483.4L993.1 485.8L994.0 488.1L994.9 490.5L995.7 492.8L996.6 495.2L997.5 497.5L998.3 499.8L999.2 502.2L1000.1 504.5L1000.9 506.9L1001.8 509.2L1002.6 511.6L1003.5 513.9L1004.4 516.3L1005.2 518.6L1006.1 521.0L1006.9 523.3L1007.8 525.7L1008.7 528.0L1009.5 530.4L1010.4 532.7L1011.2 535.1L1012.1 537.4L1012.9 539.8L1013.8 542.1L1014.6 544.5L1015.5 546.8L1016.3 549.2L1017.2 551.5L1018.0 553.9L1018.8 556.3L1019.7 558.6L1020.5 561.0L1021.4 563.3L1022.2 565.7L1023.1 568.0L1023.9 570.4L1024.7 572.7L1025.6 575.1L1026.4 577.5L1027.2 579.8L1028.1 582.2L1028.9 584.5L1029.8 586.9L1030.6 589.2L1031.4 591.6L1032.3 594.0L1033.1 596.3L1033.9 598.7L1034.8 601.0L1035.6 603.4L1036.4 605.8L1037.3 608.1L1038.1 610.5L1038.9 612.8L1039.8 615.2L1040.6 617.6L1041.4 619.9L1042.2 622.3L1043.1 624.6L1043.9 627.0L1044.7 629.4L1045.6 631.7L1046.4 634.1L1047.2 636.4L1048.0 638.8L1048.9 641.2L1049.7 643.5L1050.5 645.9L1051.4 648.2L1052.2 650.6L1053.0 653.0L1053.8 655.3L1054.7 657.7L1055.5 660.1L1056.3 662.4L1057.1 664.8L1058.0 667.1L1058.8 669.5L1059.6 671.9L1060.4 674.2L1061.3 676.6L1062.1 679.0L1062.9 681.3L1063.7 683.7L1064.6 686.0L1065.4 688.4L1066.2 690.8L1067.0 693.1L1067.9 695.5L1068.7 697.9L1069.5 700.2L1070.4 702.6L1071.2 704.9L1072.0 707.3L1072.8 709.7L1073.7 712.0L1074.5 714.4L1075.3 716.7L1076.2 719.1L1077.0 721.5L1077.8 723.8L1078.6 726.2L1079.5 728.5L1080.3 730.9L1081.1 733.3L1082.0 735.6L1082.8 738.0L1083.6 740.3L1084.5 742.7L1085.3 745.1L1086.1 747.4L1087.0 749.8L1087.8 752.1L1088.6 754.5L1089.5 756.9L1090.3 759.2L1091.2 761.6L1092.0 763.9L1092.8 766.3L1093.7 768.6L1094.5 771.0L1095.4 773.4L1096.2 775.7L1097.0 778.1L1097.9 780.4L1098.7 782.8L1099.6 785.1L1100.4 787.5L1101.3 789.8L1102.1 792.2L1103.0 794.5L1103.8 796.9L1104.7 799.3L1105.5 801.6L1106.4 804.0L1107.2 806.3L1108.1 808.7L1108.9 811.0L1109.8 813.4L1110.7 815.7L1111.5 818.1L1112.4 820.4L1113.2 822.8L1114.1 825.1L1115.0 827.5L1115.8 829.8L1116.7 832.1L1117.6 834.5L1118.4 836.8L1119.3 839.2L1120.2 841.5L1121.0 843.9L1121.9 846.2L1122.8 848.6L1123.7 850.9L1124.5 853.2L1125.4 855.6L1126.3 857.9L1127.2 860.3L1128.1 862.6L1128.9 864.9L1129.8 867.3L1130.7 869.6L1131.6 872.0L1132.5 874.3L1133.4 876.6L1134.3 879.0L1135.2 881.3L1136.1 883.6L1137.0 886.0L1137.9 888.3L1138.8 890.6L1139.7 893.0L1140.6 895.3L1141.5 897.6L1142.4 900.0L1143.3 902.3L1144.2 904.6L1145.1 906.9L1146.0 909.3L1147.0 911.6L1147.9 913.9L1148.8 916.3L1149.7 918.6L1150.6 920.9L1151.6 923.2L1152.5 925.5L1153.4 927.9L1154.3 930.2L1155.3 932.5L1156.2 934.8L1157.1 937.1L1158.1 939.5L1159.0 941.8L1160.0 944.1L1160.9 946.4L1161.9 948.7L1162.8 951.0L1163.8 953.3L1164.7 955.7L1165.7 958.0L1166.6 960.3L1167.6 962.6L1168.5 964.9L1169.5 967.2L1170.5 969.5L1171.4 971.8L1172.4 974.1L1173.4 976.4L1174.4 978.7L1175.3 981.0L1176.3 983.3L1177.3 985.6L1178.3 987.9L1179.3 990.2L1180.3 992.5L1181.3 994.8L1182.2 997.1L1183.2 999.4L1184.2 1001.7L1185.2 1004.0L1186.2 1006.3L1187.3 1008.6L1188.3 1010.9L1189.3 1013.1L1190.3 1015.4L1191.3 1017.7L1192.3 1020.0L1193.3 1022.3L1194.4 1024.6L1195.4 1026.9L1196.4 1029.1L1197.5 1031.4L1198.5 1033.7L1199.5 1036.0L1200.6 1038.2L1201.6 1040.5L1202.7 1042.8L1203.7 1045.1L1204.8 1047.3L1205.8 1049.6L1206.9 1051.9L1208.0 1054.1L1209.0 1056.4L1210.1 1058.6L1211.2 1060.9L1212.3 1063.1L1213.4 1065.4L1214.5 1067.7L1215.6 1069.9L1216.7 1072.1L1217.8 1074.4L1218.9 1076.6L1220.0 1078.9L1221.1 1081.1L1222.2 1083.3L1223.4 1085.6L1224.5 1087.8L1225.6 1090.0L1226.8 1092.2L1227.9 1094.5L1229.1 1096.7L1230.3 1098.9L1231.4 1101.1L1232.6 1103.3L1233.8 1105.5L1235.0 1107.7L1236.2 1109.9L1237.4 1112.1L1238.6 1114.3L1239.8 1116.5L1241.0 1118.7L1242.2 1120.8L1243.5 1123.0L1244.7 1125.2L1245.9 1127.4L1247.2 1129.5L1248.5 1131.7L1249.7 1133.9L1251.0 1136.0L1252.3 1138.2L1253.6 1140.3L1254.9 1142.4L1256.2 1144.6L1257.5 1146.7L1258.8 1148.8L1260.1 1151.0L1261.4 1153.1L1262.8 1155.2L1264.1 1157.3L1265.5 1159.4L1266.9 1161.5L1268.2 1163.6L1269.6 1165.7L1271.0 1167.8L1272.4 1169.9L1273.8 1171.9L1275.2 1174.0L1276.7 1176.0L1278.1 1178.1L1279.6 1180.1L1281.0 1182.2L1282.5 1184.2L1284.0 1186.2L1285.5 1188.2L1287.0 1190.2L1288.6 1192.2L1290.1 1194.1L1291.7 1196.1L1293.3 1198.0L1294.8 1199.9L1296.5 1201.8L1298.1 1203.7L1299.7 1205.6L1301.4 1207.5L1303.0 1209.3L1304.7 1211.2L1306.4 1213.0L1308.2 1214.8L1309.9 1216.6L1311.7 1218.3L1313.4 1220.1L1315.2 1221.8L1317.1 1223.5L1318.9 1225.2L1320.8 1226.9L1322.6 1228.5L1324.6 1230.1L1326.5 1231.7L1328.4 1233.3L1330.4 1234.9L1332.4 1236.4L1334.4 1237.9L1336.4 1239.4L1338.5 1240.8L1340.6 1242.2L1342.7 1243.6L1344.8 1245.0L1346.9 1246.3L1349.1 1247.6L1351.2 1248.8L1353.4 1250.0L1355.7 1251.2L1357.9 1252.4L1360.1 1253.4L1362.4 1254.5L1364.7 1255.5L1367.0 1256.5L1369.3 1257.4L1371.7 1258.2L1374.0 1259.1L1376.4 1259.8L1378.8 1260.5L1381.2 1261.2L1383.6 1261.8L1386.0 1262.4L1388.5 1262.9L1391.0 1263.3L1393.4 1263.7L1395.9 1264.0L1398.4 1264.2L1400.9 1264.4L1403.4 1264.5L1405.9 1264.5L1408.4 1264.5L1410.8 1264.3L1413.3 1264.1L1415.8 1263.8L1418.2 1263.4L1420.7 1263.0L1423.2 1262.5L1425.6 1262.0L1428.0 1261.4L1430.5 1260.8L1432.9 1260.1L1435.3 1259.5L1437.7 1258.8L1440.2 1258.1L1442.6 1257.4L1445.0 1256.7L1447.4 1255.9L1449.7 1255.2L1452.1 1254.4L1454.5 1253.6L1456.9 1252.8L1459.2 1252.0L1461.6 1251.2L1463.9 1250.3L1466.2 1249.4L1468.5 1248.4L1470.8 1247.4L1473.0 1246.3L1475.2 1245.2L1477.4 1244.0L1479.6 1242.8L1481.7 1241.5L1483.8 1240.2L1485.9 1238.8L1488.0 1237.4L1490.0 1235.9L1492.0 1234.5L1494.0 1232.9L1496.0 1231.4L1497.9 1229.8L1499.8 1228.1L1501.7 1226.5L1503.5 1224.8L1505.4 1223.1L1507.1 1221.3L1508.9 1219.5L1510.7 1217.7L1512.4 1215.9L1514.1 1214.0L1515.7 1212.1L1517.4 1210.2L1519.0 1208.3L1520.5 1206.3L1522.1 1204.4L1523.6 1202.4L1525.1 1200.4L1526.6 1198.4L1528.0 1196.4L1529.4 1194.3L1530.8 1192.3L1532.2 1190.2L1533.5 1188.1L1534.8 1186.0L1536.1 1183.9L1537.4 1181.7L1538.7 1179.6L1539.9 1177.4L1541.1 1175.3L1542.3 1173.1L1543.5 1170.9L1544.6 1168.7L1545.7 1166.5L1546.8 1164.2L1547.9 1162.0L1549.0 1159.7L1550.1 1157.5L1551.1 1155.2L1552.1 1152.9L1553.1 1150.7L1554.1 1148.4L1555.1 1146.1L1556.1 1143.8L1557.0 1141.4L1558.0 1139.1L1558.9 1136.8L1559.8 1134.5L1560.7 1132.1L1561.6 1129.8L1562.5 1127.4L1563.4 1125.1L1564.3 1122.7L1565.1 1120.4L1566.0 1118.0L1566.8 1115.6L1567.7 1113.3L1568.5 1110.9L1569.3 1108.5L1570.1 1106.1L1570.9 1103.7L1571.8 1101.4L1572.6 1099.0L1573.4 1096.6L1574.2 1094.2L1575.0 1091.8L1575.7 1089.5L1576.5 1087.1L1577.3 1084.7L1578.1 1082.3L1578.9 1079.9L1579.7 1077.6L1580.5 1075.2L1581.2 1072.8L1582.0 1070.4L1582.8 1068.0L1583.5 1065.7L1584.3 1063.3L1585.1 1060.9L1585.8 1058.5L1586.6 1056.1L1587.4 1053.8L1588.1 1051.4L1588.9 1049.0L1589.6 1046.6L1590.4 1044.2L1591.1 1041.8L1591.8 1039.5L1592.6 1037.1L1593.3 1034.7L1594.1 1032.3L1594.8 1029.9L1595.5 1027.5L1596.2 1025.1L1597.0 1022.8L1597.7 1020.4L1598.4 1018.0L1599.1 1015.6L1599.8 1013.2L1600.5 1010.8L1601.2 1008.4L1601.9 1006.0L1602.6 1003.6L1603.3 1001.2L1604.0 998.8L1604.7 996.4L1605.4 994.0L1606.1 991.6L1606.8 989.2L1607.4 986.8L1608.1 984.4L1608.8 981.9L1609.4 979.5L1610.1 977.1L1610.8 974.7L1611.4 972.3L1612.1 969.8L1612.7 967.4L1613.4 965.0"/>
<path stroke="#2222f4" stroke-width="3.1" d="M187.0 1257.0L188.5 1257.1L190.0 1257.1L191.5 1257.2L193.0 1257.3L194.5 1257.4L196.0 1257.5L197.5 1257.7L199.0 1257.9L200.5 1258.2L201.9 1258.5L203.4 1258.9L204.8 1259.3L206.2 1259.8L207.6 1260.4L209.0 1261.0L210.3 1261.7L211.7 1262.4L213.0 1263.1L214.4 1263.7L215.7 1264.3L217.2 1264.7L218.6 1265.1L220.1 1265.3L221.6 1265.4L223.1 1265.5L224.6 1265.6L226.1 1265.7L227.6 1265.8L229.1 1265.9L230.6 1266.1L232.1 1266.2L233.6 1266.3L235.1 1266.5L236.6 1266.6L238.1 1266.8L239.6 1266.9L241.1 1267.0L242.6 1267.1L244.1 1267.2L245.5 1267.3L247.0 1267.4L248.5 1267.5L250.0 1267.5L251.5 1267.6L253.0 1267.6L254.5 1267.6L256.0 1267.5L257.5 1267.5L259.0 1267.4L260.5 1267.3L262.0 1267.2L263.5 1267.0L265.1 1266.9L266.6 1266.7L268.1 1266.6L269.5 1266.5L271.0 1266.5L272.5 1266.6L273.9 1266.7L275.4 1266.9L276.9 1267.0L278.4 1267.0L279.9 1266.9L281.4 1266.8L282.9 1266.6L284.4 1266.4L285.9 1266.2L287.3 1265.9L288.8 1265.6L290.2 1265.3L291.7 1264.9L293.1 1264.5L294.6 1264.1L296.0 1263.7L297.4 1263.3L298.8 1262.8L300.3 1262.3L301.7 1261.8L303.1 1261.3L304.5 1260.8L305.9 1260.2L307.3 1259.6L308.7 1259.0L310.0 1258.3L311.4 1257.6L312.6 1256.8L313.9 1256.0L315.1 1255.2L316.2 1254.2L317.4 1253.2L318.5 1252.2L319.6 1251.2L320.7 1250.2L321.8 1249.3L323.0 1248.3L324.1 1247.4L325.2 1246.4L326.3 1245.4L327.3 1244.3L328.4 1243.3L329.4 1242.2L330.4 1241.1L331.4 1240.0L332.4 1238.9L333.4 1237.7L334.3 1236.6L335.3 1235.4L336.2 1234.2L337.1 1233.0L338.0 1231.8L338.9 1230.6L339.8 1229.4L340.6 1228.1L341.5 1226.9L342.3 1225.6L343.2 1224.4L344.0 1223.2L344.9 1221.9L345.7 1220.6L346.5 1219.4L347.3 1218.1L348.1 1216.8L348.9 1215.5L349.6 1214.3L350.4 1213.0L351.1 1211.7L351.9 1210.4L352.6 1209.1L353.4 1207.8L354.1 1206.4L354.8 1205.1L355.5 1203.8L356.2 1202.5L356.9 1201.1L357.5 1199.8L358.2 1198.5L358.9 1197.1L359.5 1195.8L360.2 1194.4L360.8 1193.1L361.4 1191.7L362.1 1190.4L362.7 1189.0L363.3 1187.6L363.9 1186.3L364.5 1184.9L365.1 1183.5L365.7 1182.1L366.3 1180.7L366.8 1179.4L367.4 1178.0L368.0 1176.6L368.5 1175.2L369.1 1173.8L369.6 1172.4L370.2 1171.0L370.7 1169.6L371.3 1168.2L371.8 1166.8L372.3 1165.4L372.9 1164.0L373.4 1162.6L373.9 1161.2L374.4 1159.8L375.0 1158.4L375.5 1157.0L376.0 1155.5L376.5 1154.1L377.0 1152.7L377.5 1151.3L378.0 1149.9L378.5 1148.5L379.0 1147.1L379.5 1145.6L380.0 1144.2L380.5 1142.8L381.0 1141.4L381.5 1140.0L382.0 1138.6L382.5 1137.1L383.0 1135.7L383.5 1134.3L384.1 1132.9L384.6 1131.5L385.1 1130.1L385.6 1128.7L386.1 1127.2L386.6 1125.8L387.1 1124.4L387.6 1123.0L388.1 1121.6L388.6 1120.2L389.1 1118.8L389.6 1117.4L390.1 1115.9L390.6 1114.5L391.1 1113.1L391.6 1111.7L392.1 1110.3L392.6 1108.9L393.1 1107.5L393.6 1106.0L394.1 1104.6L394.6 1103.2L395.1 1101.8L395.5 1100.4L396.0 1098.9L396.5 1097.5L396.9 1096.1L397.4 1094.7L397.8 1093.2L398.3 1091.8L398.7 1090.4L399.2 1089.0L399.6 1087.5L400.1 1086.1L400.5 1084.7L400.9 1083.2L401.4 1081.8L401.8 1080.3L402.2 1078.9L402.6 1077.5L403.1 1076.0L403.5 1074.6L403.9 1073.1L404.3 1071.7L404.7 1070.3L405.1 1068.8L405.5 1067.4L405.9 1065.9L406.3 1064.5L406.7 1063.0L407.1 1061.6L407.6 1060.1L407.9 1058.7L408.3 1057.3L408.7 1055.8L409.1 1054.4L409.5 1052.9L409.9 1051.5L410.3 1050.0L410.7 1048.6L411.1 1047.1L411.5 1045.7L411.9 1044.2L412.3 1042.8L412.7 1041.3L413.1 1039.9L413.5 1038.4L413.9 1037.0L414.3 1035.5L414.7 1034.1L415.1 1032.6L415.5 1031.2L415.9 1029.7L416.2 1028.3L416.6 1026.8L417.0 1025.4L417.4 1024.0L417.8 1022.5L418.2 1021.1L418.6 1019.6L419.0 1018.2L419.4 1016.7L419.8 1015.3L420.2 1013.8L420.6 1012.4L421.0 1010.9L421.4 1009.5L421.8 1008.0L422.2 1006.6L422.5 1005.1L422.9 1003.7L423.3 1002.2L423.7 1000.8L424.1 999.3L424.5 997.9L424.9 996.4L425.3 995.0L425.7 993.5L426.1 992.1L426.5 990.6L426.9 989.2L427.2 987.7L427.6 986.3L428.0 984.8L428.4 983.4L428.8 982.0L429.2 980.5L429.6 979.1L430.0 977.6L430.4 976.2L430.8 974.7L431.1 973.3L431.5 971.8L431.9 970.4L432.3 968.9L432.7 967.5L433.1 966.0L433.5 964.6L433.9 963.1L434.2 961.7L434.6 960.2L435.0 958.8L435.4 957.3L435.8 955.9L436.2 954.4L436.6 953.0L436.9 951.5L437.3 950.1L437.7 948.6L438.1 947.2L438.5 945.7L438.9 944.3L439.2 942.8L439.6 941.4L440.0 939.9L440.4 938.5L440.8 937.0L441.2 935.6L441.5 934.1L441.9 932.7L442.3 931.2L442.7 929.8L443.0 928.3L443.4 926.9L443.8 925.4L444.2 923.9L444.6 922.5L444.9 921.0L445.3 919.6L445.7 918.1L446.1 916.7L446.4 915.2L446.8 913.8L447.2 912.3L447.6 910.9L447.9 909.4L448.3 908.0L448.7 906.5L449.1 905.1L449.4 903.6L449.8 902.2L450.2 900.7L450.5 899.3L450.9 897.8L451.3 896.3L451.6 894.9L452.0 893.4L452.4 892.0L452.7 890.5L453.1 889.1L453.5 887.6L453.8 886.2L454.2 884.7L454.6 883.3L454.9 881.8L455.3 880.3L455.7 878.9L456.0 877.4L456.4 876.0L456.8 874.5L457.1 873.1L457.5 871.6L457.8 870.2L458.2 868.7L458.6 867.2L458.9 865.8L459.3 864.3L459.6 862.9L460.0 861.4L460.4 860.0L460.7 858.5L461.1 857.0L461.4 855.6L461.8 854.1L462.1 852.7L462.5 851.2L462.9 849.8L463.2 848.3L463.6 846.8L463.9 845.4L464.3 843.9L464.6 842.5L465.0 841.0L465.3 839.6L465.7 838.1L466.0 836.6L466.4 835.2L466.7 833.7L467.1 832.3L467.5 830.8L467.8 829.3L468.2 827.9L468.5 826.4L468.9 825.0L469.2 823.5L469.6 822.1L469.9 820.6L470.3 819.1L470.6 817.7L471.0 816.2L471.3 814.8L471.7 813.3L472.0 811.8L472.4 810.4L472.7 808.9L473.1 807.5L473.4 806.0L473.8 804.5L474.1 803.1L474.5 801.6L474.8 800.2L475.2 798.7L475.5 797.2L475.9 795.8L476.2 794.3L476.6 792.9L476.9 791.4L477.2 789.9L477.6 788.5L477.9 787.0L478.3 785.6L478.6 784.1L479.0 782.7L479.3 781.2L479.7 779.7L480.0 778.3L480.4 776.8L480.7 775.4L481.1 773.9L481.4 772.4L481.8 771.0L482.1 769.5L482.5 768.1L482.8 766.6L483.2 765.1L483.5 763.7L483.8 762.2L484.2 760.8L484.5 759.3L484.9 757.8L485.2 756.4L485.6 754.9L485.9 753.5L486.3 752.0L486.6 750.5L487.0 749.1L487.3 747.6L487.7 746.2L488.0 744.7L488.4 743.2L488.7 741.8L489.1 740.3L489.4 738.9L489.8 737.4L490.1 735.9L490.4 734.5L490.8 733.0L491.1 731.6L491.5 730.1L491.8 728.6L492.2 727.2L492.5 725.7L492.9 724.3L493.2 722.8L493.6 721.3L493.9 719.9L494.3 718.4L494.6 717.0L495.0 715.5L495.3 714.0L495.7 712.6L496.0 711.1L496.4 709.7L496.7 708.2L497.1 706.8L497.4 705.3L497.8 703.8L498.2 702.4L498.5 700.9L498.9 699.5L499.2 698.0L499.6 696.5L499.9 695.1L500.3 693.6L500.6 692.2L501.0 690.7L501.3 689.3L501.7 687.8L502.0 686.3L502.4 684.9L502.8 683.4L503.1 682.0L503.5 680.5L503.8 679.1L504.2 677.6L504.5 676.1L504.9 674.7L505.3 673.2L505.6 671.8L506.0 670.3L506.3 668.9L506.7 667.4L507.1 665.9L507.4 664.5L507.8 663.0L508.1 661.6L508.5 660.1L508.9 658.7L509.2 657.2L509.6 655.7L509.9 654.3L510.3 652.8L510.7 651.4L511.0 649.9L511.4 648.5L511.8 647.0L512.1 645.6L512.5 644.1L512.9 642.6L513.2 641.2L513.6 639.7L514.0 638.3L514.3 636.8L514.7 635.4L515.1 633.9L515.4 632.5L515.8 631.0L516.2 629.6L516.5 628.1L516.9 626.6L517.3 625.2L517.7 623.7L518.0 622.3L518.4 620.8L518.8 619.4L519.1 617.9L519.5 616.5L519.9 615.0L520.3 613.6L520.6 612.1L521.0 610.7L521.4 609.2L521.8 607.7L522.1 606.3L522.5 604.8L522.9 603.4L523.3 601.9L523.6 600.5L524.0 599.0L524.4 597.6L524.8 596.1L525.1 594.7L525.5 593.2L525.9 591.8L526.3 590.3L526.6 588.9L527.0 587.4L527.4 586.0L527.8 584.5L528.2 583.1L528.5 581.6L528.9 580.2L529.3 578.7L529.7 577.3L530.1 575.8L530.4 574.4L530.8 572.9L531.2 571.5L531.6 570.0L532.0 568.6L532.4 567.1L532.7 565.6L533.1 564.2L533.5 562.7L533.9 561.3L534.3 559.8L534.6 558.4L535.0 556.9L535.4 555.5L535.8 554.0L536.2 552.6L536.6 551.1L537.0 549.7L537.3 548.2L537.7 546.8L538.1 545.3L538.5 543.9L538.9 542.4L539.3 541.0L539.6 539.5L540.0 538.1L540.4 536.7L540.8 535.2L541.2 533.8L541.6 532.3L542.0 530.9L542.4 529.4L542.7 528.0L543.1 526.5L543.5 525.1L543.9 523.6L544.3 522.2L544.7 520.7L545.1 519.3L545.5 517.8L545.9 516.4L546.2 514.9L546.6 513.5L547.0 512.0L547.4 510.6L547.8 509.1L548.2 507.7L548.6 506.2L549.0 504.8L549.4 503.3L549.8 501.9L550.1 500.4L550.5 499.0L550.9 497.5L551.3 496.1L551.7 494.6L552.1 493.2L552.5 491.8L552.9 490.3L553.3 488.9L553.7 487.4L554.1 486.0L554.5 484.5L554.9 483.1L555.3 481.6L555.7 480.2L556.1 478.7L556.5 477.3L556.9 475.8L557.3 474.4L557.7 472.9L558.1 471.5L558.5 470.1L558.9 468.6L559.3 467.2L559.7 465.7L560.1 464.3L560.5 462.8L560.9 461.4L561.3 459.9L561.7 458.5L562.1 457.0L562.5 455.6L562.9 454.1L563.3 452.7L563.7 451.3L564.1 449.8L564.5 448.4L564.9 446.9L565.3 445.5L565.7 444.0L566.1 442.6L566.5 441.1L566.9 439.7L567.3 438.2L567.7 436.8L568.1 435.4L568.5 433.9L569.0 432.5L569.4 431.0L569.8 429.6L570.2 428.1L570.6 426.7L571.0 425.2L571.4 423.8L571.8 422.4L572.2 420.9L572.7 419.5L573.1 418.0L573.5 416.6L573.9 415.1L574.3 413.7L574.7 412.3L575.1 410.8L575.6 409.4L576.0 407.9L576.4 406.5L576.8 405.0L577.2 403.6L577.7 402.2L578.1 400.7L578.5 399.3L578.9 397.8L579.3 396.4L579.8 394.9L580.2 393.5L580.6 392.1L581.0 390.6L581.5 389.2L581.9 387.7L582.3 386.3L582.8 384.9L583.2 383.4L583.6 382.0L584.1 380.5L584.5 379.1L584.9 377.7L585.4 376.2L585.8 374.8L586.3 373.4L586.7 371.9L587.1 370.5L587.6 369.1L588.0 367.6L588.5 366.2L588.9 364.8L589.4 363.3L589.8 361.9L590.3 360.5L590.8 359.0L591.2 357.6L591.7 356.2L592.1 354.7L592.6 353.3L593.1 351.9L593.5 350.5L594.0 349.0L594.5 347.6L594.9 346.2L595.4 344.8L595.9 343.3L596.4 341.9L596.8 340.5L597.3 339.1L597.8 337.7L598.3 336.2L598.8 334.8L599.3 333.4L599.8 332.0L600.2 330.6L600.7 329.1L601.2 327.7L601.7 326.3L602.2 324.9L602.7 323.5L603.3 322.1L603.8 320.7L604.3 319.3L604.8 317.9L605.3 316.4L605.8 315.0L606.3 313.6L606.9 312.2L607.4 310.8L607.9 309.4L608.5 308.0L609.0 306.6L609.5 305.2L610.1 303.8L610.6 302.4L611.1 301.0L611.7 299.6L612.2 298.2L612.8 296.8L613.3 295.4L613.9 294.1L614.5 292.7L615.0 291.3L615.6 289.9L616.2 288.5L616.7 287.1L617.3 285.7L617.9 284.3L618.4 283.0L619.0 281.6L619.6 280.2L620.2 278.8L620.8 277.4L621.4 276.0L621.9 274.7L622.5 273.3L623.1 271.9L623.7 270.5L624.3 269.2L624.9 267.8L625.5 266.4L626.1 265.0L626.7 263.7L627.3 262.3L627.9 260.9L628.5 259.5L629.1 258.2L629.7 256.8L630.3 255.4L630.9 254.0L631.5 252.7L632.1 251.3L632.7 249.9L633.3 248.5L633.9 247.2L634.5 245.8L635.2 244.4L635.8 243.1L636.4 241.7L637.0 240.3L637.6 238.9L638.2 237.6L638.8 236.2L639.4 234.8L640.0 233.4L640.6 232.1L641.3 230.7L641.9 229.3L642.5 228.0L643.1 226.6L643.7 225.2L644.3 223.8L644.9 222.5L645.5 221.1L646.1 219.7L646.7 218.3L647.3 217.0L648.0 215.6L648.6 214.2L649.2 212.8L649.8 211.5L650.4 210.1L651.0 208.7L651.6 207.4L652.3 206.0L652.9 204.6L653.5 203.3L654.2 201.9L654.8 200.6L655.5 199.2L656.1 197.9L656.8 196.5L657.4 195.2L658.1 193.8L658.8 192.5L659.5 191.2L660.2 189.8L660.9 188.5L661.6 187.2L662.3 185.9L663.1 184.6L663.8 183.3L664.6 182.0L665.3 180.7L666.1 179.4L666.9 178.1L667.7 176.9L668.5 175.6L669.3 174.3L670.1 173.1L671.0 171.8L671.8 170.6L672.7 169.4L673.5 168.1L674.4 166.9L675.2 165.6L676.1 164.4L676.9 163.2L677.8 161.9L678.6 160.7L679.5 159.5L680.3 158.2L681.1 157.0L682.0 155.7L682.8 154.5L683.6 153.2L684.4 152.0L685.2 150.8L686.0 149.5L686.8 148.3L687.7 147.0L688.5 145.8L689.3 144.5L690.2 143.3L691.1 142.0L692.0 140.8L692.9 139.6L693.8 138.4L694.8 137.2L695.8 136.1L696.8 134.9L697.8 133.8L698.9 132.8L700.0 131.8L701.1 130.8L702.3 129.8L703.5 128.9L704.7 128.1L705.9 127.3L707.2 126.6L708.6 125.9L709.9 125.2L711.2 124.5L712.5 123.8L713.7 122.9L714.9 121.9L716.0 121.0L717.1 120.0L718.3 119.0L719.4 118.0L720.6 117.1L721.8 116.2L723.1 115.5L724.4 114.8L725.7 114.2L727.1 113.6L728.5 113.1L729.9 112.5L731.3 111.8L732.7 111.2L734.1 110.6L735.5 110.0L736.9 109.4L738.3 108.8L739.7 108.4L741.2 108.0L742.6 107.7L744.1 107.5L745.5 107.5L747.0 107.6L748.5 107.9L750.0 108.2L751.5 108.5L753.0 108.6L754.6 108.7L756.1 108.6L757.6 108.6L759.0 108.7L760.5 108.9L761.9 109.3L763.3 109.7L764.7 110.0L766.1 110.1L767.6 110.1L769.2 109.9L770.7 109.7L772.2 109.5L773.7 109.3L775.2 109.4L776.5 109.6L777.8 110.2L779.0 111.1L780.2 112.2L781.3 113.2L782.6 114.2L783.9 114.9L785.2 115.4L786.6 115.9L787.9 116.6L789.1 117.4L790.2 118.3L791.4 119.3L792.6 120.2L793.9 120.9L795.2 121.7L796.4 122.5L797.5 123.5L798.5 124.6L799.4 125.8L800.3 126.9L801.3 128.0L802.4 129.0L803.6 129.9L804.8 130.8L806.1 131.7L807.4 132.5L808.7 133.3L810.0 134.1L811.2 134.9L812.4 135.8L813.5 136.8L814.5 137.8L815.5 139.0L816.4 140.1L817.3 141.3L818.3 142.4L819.3 143.6L820.3 144.7L821.3 145.8L822.3 146.9L823.4 147.9L824.4 149.0L825.5 150.1L826.5 151.2L827.6 152.3L828.6 153.4L829.6 154.5L830.6 155.6L831.6 156.7L832.5 157.9L833.5 159.1L834.4 160.2L835.3 161.4L836.2 162.6L837.1 163.8L838.0 165.0L838.9 166.3L839.7 167.5L840.5 168.7L841.4 170.0L842.2 171.2L843.0 172.5L843.8 173.8L844.6 175.0L845.4 176.3L846.2 177.6L847.0 178.9L847.7 180.2L848.5 181.5L849.3 182.8L850.1 184.1L850.8 185.4L851.6 186.7L852.4 187.9L853.1 189.2L853.9 190.5L854.7 191.8L855.5 193.1L856.3 194.4L857.1 195.6L857.9 196.9L858.7 198.2L859.5 199.4L860.3 200.7L861.2 201.9L862.0 203.2L862.9 204.4L863.7 205.6L864.5 206.9L865.4 208.1L866.2 209.3L867.1 210.6L867.9 211.8L868.7 213.1L869.6 214.3L870.4 215.6L871.1 216.9L871.9 218.1L872.7 219.4L873.4 220.7L874.2 222.0L874.9 223.3L875.6 224.7L876.3 226.0L877.0 227.3L877.7 228.6L878.4 230.0L879.1 231.3L879.8 232.7L880.5 234.0L881.2 235.3L881.8 236.7L882.5 238.0L883.2 239.4L883.8 240.7L884.5 242.1L885.2 243.4L885.9 244.8L886.5 246.1L887.2 247.5L887.8 248.8L888.5 250.1L889.2 251.5L889.8 252.8L890.5 254.2L891.2 255.5L891.9 256.9L892.5 258.2L893.2 259.5L893.9 260.9L894.5 262.2L895.2 263.6L895.9 264.9L896.6 266.2L897.2 267.6L897.9 268.9L898.6 270.2L899.3 271.6L900.0 272.9L900.6 274.3L901.3 275.6L902.0 276.9L902.7 278.3L903.4 279.6L904.0 280.9L904.7 282.3L905.4 283.6L906.1 285.0L906.7 286.3L907.4 287.6L908.1 289.0L908.8 290.3L909.4 291.7L910.1 293.0L910.8 294.3L911.4 295.7L912.1 297.0L912.8 298.4L913.4 299.7L914.1 301.1L914.7 302.4L915.4 303.8L916.0 305.1L916.7 306.5L917.3 307.8L918.0 309.2L918.6 310.6L919.2 311.9L919.9 313.3L920.5 314.6L921.1 316.0L921.7 317.4L922.4 318.7L923.0 320.1L923.6 321.5L924.2 322.8L924.9 324.2L925.5 325.6L926.1 326.9L926.7 328.3L927.3 329.7L927.9 331.0L928.5 332.4L929.1 333.8L929.7 335.2L930.3 336.5L930.9 337.9L931.5 339.3L932.1 340.7L932.7 342.0L933.3 343.4L933.9 344.8L934.4 346.2L935.0 347.6L935.6 348.9L936.2 350.3L936.8 351.7L937.3 353.1L937.9 354.5L938.5 355.9L939.1 357.3L939.6 358.6L940.2 360.0L940.8 361.4L941.3 362.8L941.9 364.2L942.5 365.6L943.0 367.0L943.6 368.4L944.2 369.8L944.7 371.2L945.3 372.6L945.8 374.0L946.4 375.3L947.0 376.7L947.5 378.1L948.1 379.5L948.6 380.9L949.2 382.3L949.7 383.7L950.3 385.1L950.8 386.5L951.4 387.9L951.9 389.3L952.5 390.7L953.0 392.1L953.5 393.5L954.1 394.9L954.6 396.3L955.2 397.7L955.7 399.1L956.2 400.5L956.8 401.9L957.3 403.3L957.9 404.7L958.4 406.1L958.9 407.5L959.5 408.9L960.0 410.3L960.5 411.7L961.1 413.1L961.6 414.5L962.2 415.9L962.7 417.3L963.2 418.8L963.8 420.2L964.3 421.6L964.8 423.0L965.4 424.4L965.9 425.8L966.4 427.2L966.9 428.6L967.5 430.0L968.0 431.4L968.5 432.8L969.1 434.2L969.6 435.6L970.1 437.0L970.7 438.4L971.2 439.8L971.7 441.2L972.3 442.6L972.8 444.0L973.3 445.4L973.8 446.8L974.4 448.2L974.9 449.7L975.4 451.1L975.9 452.5L976.5 453.9L977.0 455.3L977.5 456.7L978.1 458.1L978.6 459.5L979.1 460.9L979.6 462.3L980.2 463.7L980.7 465.1L981.2 466.5L981.7 467.9L982.3 469.3L982.8 470.7L983.3 472.1L983.8 473.6L984.3 475.0L984.9 476.4L985.4 477.8L985.9 479.2L986.4 480.6L987.0 482.0L987.5 483.4L988.0 484.8L988.5 486.2L989.0 487.6L989.6 489.0L990.1 490.4L990.6 491.8L991.1 493.3L991.6 494.7L992.2 496.1L992.7 497.5L993.2 498.9L993.7 500.3L994.2 501.7L994.8 503.1L995.3 504.5L995.8 505.9L996.3 507.3L996.8 508.7L997.4 510.1L997.9 511.6L998.4 513.0L998.9 514.4L999.4 515.8L999.9 517.2L1000.5 518.6L1001.0 520.0L1001.5 521.4L1002.0 522.8L1002.5 524.2L1003.0 525.6L1003.5 527.0L1004.1 528.5L1004.6 529.9L1005.1 531.3L1005.6 532.7L1006.1 534.1L1006.6 535.5L1007.2 536.9L1007.7 538.3L1008.2 539.7L1008.7 541.1L1009.2 542.5L1009.7 544.0L1010.2 545.4L1010.7 546.8L1011.3 548.2L1011.8 549.6L1012.3 551.0L1012.8 552.4L1013.3 553.8L1013.8 555.2L1014.3 556.6L1014.8 558.1L1015.4 559.5L1015.9 560.9L1016.4 562.3L1016.9 563.7L1017.4 565.1L1017.9 566.5L1018.4 567.9L1018.9 569.3L1019.4 570.7L1020.0 572.2L1020.5 573.6L1021.0 575.0L1021.5 576.4L1022.0 577.8L1022.5 579.2L1023.0 580.6L1023.5 582.0L1024.0 583.4L1024.5 584.9L1025.0 586.3L1025.6 587.7L1026.1 589.1L1026.6 590.5L1027.1 591.9L1027.6 593.3L1028.1 594.7L1028.6 596.1L1029.1 597.6L1029.6 599.0L1030.1 600.4L1030.6 601.8L1031.1 603.2L1031.7 604.6L1032.2 606.0L1032.7 607.4L1033.2 608.8L1033.7 610.3L1034.2 611.7L1034.7 613.1L1035.2 614.5L1035.7 615.9L1036.2 617.3L1036.7 618.7L1037.2 620.1L1037.7 621.6L1038.2 623.0L1038.7 624.4L1039.3 625.8L1039.8 627.2L1040.3 628.6L1040.8 630.0L1041.3 631.4L1041.8 632.8L1042.3 634.3L1042.8 635.7L1043.3 637.1L1043.8 638.5L1044.3 639.9L1044.8 641.3L1045.3 642.7L1045.8 644.1L1046.3 645.6L1046.8 647.0L1047.3 648.4L1047.8 649.8L1048.3 651.2L1048.9 652.6L1049.4 654.0L1049.9 655.4L1050.4 656.9L1050.9 658.3L1051.4 659.7L1051.9 661.1L1052.4 662.5L1052.9 663.9L1053.4 665.3L1053.9 666.8L1054.4 668.2L1054.9 669.6L1055.4 671.0L1055.9 672.4L1056.4 673.8L1056.9 675.2L1057.4 676.6L1057.9 678.1L1058.4 679.5L1058.9 680.9L1059.4 682.3L1059.9 683.7L1060.4 685.1L1061.0 686.5L1061.5 688.0L1062.0 689.4L1062.5 690.8L1063.0 692.2L1063.5 693.6L1064.0 695.0L1064.5 696.4L1065.0 697.8L1065.5 699.3L1066.0 700.7L1066.5 702.1L1067.0 703.5L1067.5 704.9L1068.0 706.3L1068.5 707.7L1069.0 709.1L1069.5 710.6L1070.0 712.0L1070.5 713.4L1071.0 714.8L1071.5 716.2L1072.0 717.6L1072.6 719.0L1073.1 720.5L1073.6 721.9L1074.1 723.3L1074.6 724.7L1075.1 726.1L1075.6 727.5L1076.1 728.9L1076.6 730.3L1077.1 731.8L1077.6 733.2L1078.1 734.6L1078.6 736.0L1079.1 737.4L1079.6 738.8L1080.1 740.2L1080.6 741.6L1081.2 743.1L1081.7 744.5L1082.2 745.9L1082.7 747.3L1083.2 748.7L1083.7 750.1L1084.2 751.5L1084.7 752.9L1085.2 754.4L1085.7 755.8L1086.2 757.2L1086.7 758.6L1087.2 760.0L1087.8 761.4L1088.3 762.8L1088.8 764.2L1089.3 765.6L1089.8 767.1L1090.3 768.5L1090.8 769.9L1091.3 771.3L1091.8 772.7L1092.3 774.1L1092.9 775.5L1093.4 776.9L1093.9 778.3L1094.4 779.8L1094.9 781.2L1095.4 782.6L1095.9 784.0L1096.4 785.4L1096.9 786.8L1097.5 788.2L1098.0 789.6L1098.5 791.0L1099.0 792.5L1099.5 793.9L1100.0 795.3L1100.5 796.7L1101.1 798.1L1101.6 799.5L1102.1 800.9L1102.6 802.3L1103.1 803.7L1103.6 805.1L1104.2 806.5L1104.7 808.0L1105.2 809.4L1105.7 810.8L1106.2 812.2L1106.7 813.6L1107.3 815.0L1107.8 816.4L1108.3 817.8L1108.8 819.2L1109.3 820.6L1109.9 822.0L1110.4 823.4L1110.9 824.9L1111.4 826.3L1111.9 827.7L1112.5 829.1L1113.0 830.5L1113.5 831.9L1114.0 833.3L1114.5 834.7L1115.1 836.1L1115.6 837.5L1116.1 838.9L1116.6 840.3L1117.2 841.7L1117.7 843.1L1118.2 844.5L1118.7 845.9L1119.3 847.4L1119.8 848.8L1120.3 850.2L1120.8 851.6L1121.4 853.0L1121.9 854.4L1122.4 855.8L1123.0 857.2L1123.5 858.6L1124.0 860.0L1124.5 861.4L1125.1 862.8L1125.6 864.2L1126.1 865.6L1126.7 867.0L1127.2 868.4L1127.7 869.8L1128.3 871.2L1128.8 872.6L1129.3 874.0L1129.9 875.4L1130.4 876.8L1130.9 878.2L1131.5 879.6L1132.0 881.0L1132.5 882.4L1133.1 883.8L1133.6 885.2L1134.1 886.6L1134.7 888.0L1135.2 889.4L1135.8 890.8L1136.3 892.2L1136.8 893.6L1137.4 895.0L1137.9 896.4L1138.5 897.8L1139.0 899.2L1139.6 900.6L1140.1 902.0L1140.6 903.4L1141.2 904.8L1141.7 906.2L1142.3 907.6L1142.8 909.0L1143.4 910.4L1143.9 911.8L1144.5 913.2L1145.0 914.6L1145.5 916.0L1146.1 917.4L1146.6 918.8L1147.2 920.2L1147.7 921.6L1148.3 923.0L1148.8 924.4L1149.4 925.8L1150.0 927.2L1150.5 928.6L1151.1 930.0L1151.6 931.4L1152.2 932.7L1152.7 934.1L1153.3 935.5L1153.8 936.9L1154.4 938.3L1155.0 939.7L1155.5 941.1L1156.1 942.5L1156.6 943.9L1157.2 945.3L1157.7 946.7L1158.3 948.1L1158.9 949.5L1159.4 950.8L1160.0 952.2L1160.6 953.6L1161.1 955.0L1161.7 956.4L1162.3 957.8L1162.8 959.2L1163.4 960.6L1164.0 962.0L1164.5 963.4L1165.1 964.7L1165.7 966.1L1166.2 967.5L1166.8 968.9L1167.4 970.3L1167.9 971.7L1168.5 973.1L1169.1 974.5L1169.7 975.8L1170.2 977.2L1170.8 978.6L1171.4 980.0L1172.0 981.4L1172.5 982.8L1173.1 984.1L1173.7 985.5L1174.3 986.9L1174.9 988.3L1175.4 989.7L1176.0 991.1L1176.6 992.5L1177.2 993.8L1177.8 995.2L1178.4 996.6L1178.9 998.0L1179.5 999.4L1180.1 1000.7L1180.7 1002.1L1181.3 1003.5L1181.9 1004.9L1182.5 1006.3L1183.1 1007.6L1183.6 1009.0L1184.2 1010.4L1184.8 1011.8L1185.4 1013.2L1186.0 1014.5L1186.6 1015.9L1187.2 1017.3L1187.8 1018.7L1188.4 1020.0L1189.0 1021.4L1189.6 1022.8L1190.2 1024.2L1190.8 1025.6L1191.4 1026.9L1192.0 1028.3L1192.6 1029.7L1193.2 1031.1L1193.8 1032.4L1194.4 1033.8L1195.0 1035.2L1195.6 1036.5L1196.2 1037.9L1196.9 1039.3L1197.5 1040.7L1198.1 1042.0L1198.7 1043.4L1199.3 1044.8L1199.9 1046.1L1200.5 1047.5L1201.2 1048.9L1201.8 1050.2L1202.4 1051.6L1203.0 1053.0L1203.7 1054.3L1204.3 1055.7L1204.9 1057.1L1205.5 1058.4L1206.2 1059.8L1206.8 1061.1L1207.4 1062.5L1208.1 1063.9L1208.7 1065.2L1209.3 1066.6L1210.0 1067.9L1210.6 1069.3L1211.3 1070.6L1211.9 1072.0L1212.6 1073.4L1213.2 1074.7L1213.9 1076.1L1214.5 1077.4L1215.2 1078.8L1215.8 1080.1L1216.5 1081.4L1217.2 1082.8L1217.8 1084.1L1218.5 1085.5L1219.2 1086.8L1219.8 1088.2L1220.5 1089.5L1221.2 1090.8L1221.9 1092.2L1222.5 1093.5L1223.2 1094.9L1223.9 1096.2L1224.6 1097.5L1225.3 1098.9L1226.0 1100.2L1226.7 1101.5L1227.3 1102.8L1228.0 1104.2L1228.7 1105.5L1229.5 1106.8L1230.2 1108.1L1230.9 1109.5L1231.6 1110.8L1232.3 1112.1L1233.0 1113.4L1233.7 1114.7L1234.4 1116.1L1235.2 1117.4L1235.9 1118.7L1236.6 1120.0L1237.4 1121.3L1238.1 1122.6L1238.8 1123.9L1239.6 1125.2L1240.3 1126.5L1241.1 1127.8L1241.8 1129.1L1242.6 1130.4L1243.3 1131.7L1244.1 1133.0L1244.8 1134.3L1245.6 1135.6L1246.4 1136.9L1247.1 1138.2L1247.9 1139.5L1248.7 1140.8L1249.4 1142.1L1250.2 1143.3L1251.0 1144.6L1251.8 1145.9L1252.6 1147.2L1253.3 1148.5L1254.1 1149.8L1254.9 1151.0L1255.7 1152.3L1256.5 1153.6L1257.3 1154.9L1258.1 1156.1L1258.9 1157.4L1259.7 1158.7L1260.5 1160.0L1261.3 1161.2L1262.1 1162.5L1262.9 1163.8L1263.7 1165.0L1264.5 1166.3L1265.3 1167.6L1266.1 1168.8L1266.9 1170.1L1267.7 1171.4L1268.5 1172.6L1269.3 1173.9L1270.1 1175.2L1270.9 1176.4L1271.7 1177.7L1272.6 1179.0L1273.4 1180.2L1274.2 1181.5L1275.0 1182.7L1275.8 1184.0L1276.6 1185.2L1277.5 1186.5L1278.3 1187.7L1279.2 1189.0L1280.0 1190.2L1280.9 1191.4L1281.8 1192.6L1282.7 1193.8L1283.6 1195.0L1284.5 1196.2L1285.4 1197.4L1286.4 1198.5L1287.3 1199.7L1288.3 1200.8L1289.3 1201.9L1290.3 1203.1L1291.3 1204.2L1292.4 1205.3L1293.4 1206.4L1294.4 1207.5L1295.4 1208.6L1296.4 1209.7L1297.5 1210.8L1298.5 1211.9L1299.5 1213.0L1300.4 1214.2L1301.4 1215.3L1302.3 1216.5L1303.3 1217.7L1304.2 1218.9L1305.0 1220.1L1305.9 1221.3L1306.8 1222.5L1307.8 1223.6L1308.8 1224.7L1309.8 1225.8L1310.8 1226.9L1311.9 1227.9L1313.0 1229.0L1314.0 1230.1L1315.0 1231.2L1316.0 1232.4L1317.0 1233.6L1318.0 1234.8L1319.0 1235.9L1320.2 1236.8L1321.4 1237.6L1322.8 1238.2L1324.2 1238.6L1325.7 1239.0L1327.1 1239.5L1328.2 1240.3L1329.2 1241.4L1330.0 1242.7L1330.8 1244.0L1331.6 1245.4L1332.4 1246.8L1333.3 1248.0L1334.3 1249.0L1335.5 1250.0L1336.6 1250.9L1337.9 1251.7L1339.1 1252.5L1340.4 1253.3L1341.8 1254.0L1343.0 1254.7L1344.3 1255.5L1345.6 1256.3L1346.8 1257.1L1348.1 1257.8L1349.4 1258.5L1350.7 1259.2L1352.1 1259.8L1353.4 1260.4L1354.8 1261.0L1356.2 1261.6L1357.5 1262.1L1358.9 1262.5L1360.3 1263.0L1361.7 1263.5L1362.9 1264.2L1364.1 1265.1L1365.3 1266.0L1366.5 1267.0L1367.6 1268.0L1368.9 1268.9L1370.1 1269.7L1371.5 1270.3L1372.9 1270.7L1374.3 1271.1L1375.8 1271.5L1377.2 1272.0L1378.6 1272.5L1380.0 1272.9L1381.4 1273.3L1382.9 1273.5L1384.3 1273.6L1385.8 1273.6L1387.3 1273.7L1388.8 1273.7L1390.3 1273.8L1391.8 1273.9L1393.3 1274.2L1394.7 1274.6L1396.1 1275.2L1397.4 1275.9L1398.8 1276.7L1400.2 1277.3L1401.6 1277.7L1403.0 1277.9L1404.5 1277.9L1406.1 1277.9L1407.6 1277.8L1409.1 1277.7L1410.6 1277.8L1412.1 1278.0L1413.6 1278.3L1415.1 1278.4L1416.6 1278.6L1418.1 1278.6L1419.6 1278.6L1421.1 1278.5L1422.6 1278.4L1424.1 1278.2L1425.5 1278.1L1427.0 1277.8L1428.5 1277.6L1430.0 1277.4L1431.5 1277.2L1433.0 1276.9L1434.4 1276.7L1435.9 1276.6L1437.4 1276.4L1439.0 1276.3L1440.5 1276.3L1442.0 1276.2L1443.5 1276.1L1445.0 1275.9L1446.4 1275.5L1447.7 1274.9L1449.0 1274.2L1450.3 1273.4L1451.6 1272.6L1453.0 1272.1L1454.5 1271.8L1456.0 1271.7L1457.5 1271.7L1459.0 1271.6L1460.5 1271.5L1462.0 1271.2L1463.3 1270.6L1464.6 1269.9L1465.9 1269.1L1467.2 1268.3L1468.5 1267.6L1469.9 1267.0L1471.3 1266.5L1472.7 1266.0L1474.1 1265.4L1475.5 1264.8L1476.8 1264.2L1478.1 1263.4L1479.4 1262.6L1480.6 1261.8L1481.9 1261.0L1483.2 1260.3L1484.6 1259.6L1485.9 1258.9L1487.2 1258.2L1488.5 1257.5L1489.8 1256.7L1491.0 1255.9L1492.2 1255.0L1493.5 1254.2L1494.7 1253.2L1495.8 1252.3L1497.0 1251.4L1498.1 1250.4L1499.3 1249.4L1500.4 1248.4L1501.5 1247.4L1502.6 1246.3L1503.7 1245.3L1504.7 1244.2L1505.8 1243.1L1506.8 1242.0L1507.8 1240.9L1508.8 1239.8L1509.8 1238.7L1510.8 1237.6L1511.7 1236.4L1512.7 1235.3L1513.6 1234.1L1514.6 1232.9L1515.5 1231.7L1516.4 1230.5L1517.3 1229.3L1518.1 1228.1L1519.0 1226.9L1519.9 1225.7L1520.7 1224.4L1521.6 1223.2L1522.4 1221.9L1523.2 1220.7L1524.0 1219.4L1524.8 1218.1L1525.6 1216.9L1526.4 1215.6L1527.1 1214.3L1527.9 1213.0L1528.6 1211.7L1529.4 1210.4L1530.1 1209.1L1530.8 1207.8L1531.6 1206.5L1532.3 1205.1L1533.0 1203.8L1533.7 1202.5L1534.4 1201.2L1535.1 1199.8L1535.7 1198.5L1536.4 1197.2L1537.1 1195.8L1537.8 1194.5L1538.4 1193.1L1539.1 1191.8L1539.7 1190.4L1540.4 1189.1L1541.0 1187.7L1541.7 1186.4L1542.3 1185.0L1543.0 1183.7L1543.6 1182.3L1544.2 1180.9L1544.9 1179.6L1545.5 1178.2L1546.1 1176.9L1546.8 1175.5L1547.4 1174.1L1548.0 1172.8L1548.6 1171.4L1549.3 1170.0L1549.9 1168.7L1550.5 1167.3L1551.1 1165.9L1551.7 1164.6L1552.3 1163.2L1552.9 1161.8L1553.5 1160.4L1554.1 1159.1L1554.7 1157.7L1555.3 1156.3L1555.9 1154.9L1556.5 1153.5L1557.1 1152.2L1557.7 1150.8L1558.2 1149.4L1558.8 1148.0L1559.4 1146.6L1559.9 1145.2L1560.5 1143.8L1561.0 1142.4L1561.6 1141.0L1562.1 1139.7L1562.7 1138.3L1563.2 1136.9L1563.8 1135.4L1564.3 1134.0L1564.8 1132.6L1565.3 1131.2L1565.8 1129.8L1566.3 1128.4L1566.9 1127.0L1567.4 1125.6L1567.9 1124.2L1568.4 1122.8L1568.8 1121.3L1569.3 1119.9L1569.8 1118.5L1570.3 1117.1L1570.8 1115.7L1571.3 1114.3L1571.7 1112.8L1572.2 1111.4L1572.7 1110.0L1573.1 1108.6L1573.6 1107.1L1574.1 1105.7L1574.5 1104.3L1575.0 1102.8L1575.4 1101.4L1575.9 1100.0L1576.3 1098.5L1576.8 1097.1L1577.2 1095.7L1577.7 1094.2L1578.1 1092.8L1578.6 1091.4L1579.0 1089.9L1579.4 1088.5L1579.9 1087.1L1580.3 1085.6L1580.7 1084.2L1581.2 1082.8L1581.6 1081.3L1582.0 1079.9L1582.5 1078.4L1582.9 1077.0L1583.3 1075.6L1583.7 1074.1L1584.2 1072.7L1584.6 1071.2L1585.0 1069.8L1585.4 1068.4L1585.9 1066.9L1586.3 1065.5L1586.7 1064.0L1587.1 1062.6L1587.6 1061.2L1588.0 1059.7L1588.4 1058.3L1588.8 1056.9L1589.3 1055.4L1589.7 1054.0L1590.1 1052.5L1590.5 1051.1L1590.9 1049.7L1591.4 1048.2L1591.8 1046.8L1592.2 1045.3L1592.6 1043.9L1593.1 1042.5L1593.5 1041.0L1593.9 1039.6L1594.3 1038.1L1594.7 1036.7L1595.2 1035.3L1595.6 1033.8L1596.0 1032.4L1596.4 1030.9L1596.8 1029.5L1597.2 1028.1L1597.7 1026.6L1598.1 1025.2L1598.5 1023.7L1598.9 1022.3L1599.3 1020.9L1599.7 1019.4L1600.1 1018.0L1600.6 1016.5L1601.0 1015.1L1601.4 1013.6L1601.8 1012.2L1602.2 1010.8L1602.6 1009.3L1603.0 1007.9L1603.4 1006.4L1603.8 1005.0L1604.2 1003.5L1604.6 1002.1L1605.0 1000.6L1605.4 999.2L1605.8 997.8L1606.2 996.3L1606.6 994.9L1607.0 993.4L1607.4 992.0L1607.8 990.5L1608.2 989.1L1608.6 987.6L1609.0 986.2L1609.4 984.7L1609.8 983.3L1610.2 981.8L1610.6 980.4L1610.9 978.9L1611.3 977.5L1611.7 976.0L1612.1 974.6L1612.5 973.1L1612.9 971.7L1613.2 970.2L1613.6 968.8L1614.0 967.3"/>
<path stroke="#f40000" stroke-width="3.1" d="M186.9 1258.6L189.4 1259.3L191.8 1259.9L194.3 1260.5L196.8 1261.0L199.3 1261.4L201.8 1261.8L204.2 1262.1L206.7 1262.3L209.2 1262.5L211.7 1262.6L214.2 1262.6L216.7 1262.6L219.1 1262.5L221.6 1262.4L224.1 1262.2L226.6 1262.0L229.0 1261.7L231.5 1261.4L234.0 1261.0L236.4 1260.6L238.9 1260.1L241.3 1259.6L243.8 1259.0L246.2 1258.5L248.7 1257.8L251.1 1257.2L253.5 1256.5L255.9 1255.8L258.3 1255.0L260.7 1254.2L263.1 1253.4L265.4 1252.6L267.8 1251.7L270.1 1250.8L272.4 1249.8L274.7 1248.9L277.0 1247.9L279.3 1246.8L281.6 1245.7L283.8 1244.6L286.0 1243.4L288.2 1242.3L290.4 1241.0L292.6 1239.8L294.7 1238.5L296.8 1237.1L298.9 1235.8L300.9 1234.4L303.0 1232.9L305.0 1231.4L306.9 1229.9L308.9 1228.4L310.8 1226.8L312.7 1225.1L314.5 1223.4L316.4 1221.7L318.2 1220.0L319.9 1218.2L321.6 1216.4L323.3 1214.6L325.0 1212.7L326.7 1210.8L328.3 1208.9L329.8 1207.0L331.4 1205.0L332.9 1203.0L334.4 1201.0L335.9 1199.0L337.3 1197.0L338.7 1194.9L340.1 1192.8L341.5 1190.7L342.9 1188.6L344.2 1186.5L345.5 1184.4L346.8 1182.2L348.0 1180.1L349.3 1177.9L350.5 1175.7L351.8 1173.5L353.0 1171.3L354.2 1169.1L355.3 1166.9L356.5 1164.7L357.6 1162.5L358.7 1160.2L359.8 1158.0L360.8 1155.7L361.8 1153.4L362.7 1151.1L363.6 1148.7L364.4 1146.4L365.2 1144.0L366.0 1141.7L366.9 1139.3L367.7 1137.0L368.6 1134.6L369.5 1132.3L370.5 1130.0L371.5 1127.7L372.5 1125.4L373.6 1123.2L374.6 1120.9L375.6 1118.6L376.6 1116.3L377.6 1114.0L378.6 1111.7L379.5 1109.4L380.4 1107.1L381.4 1104.7L382.3 1102.4L383.2 1100.1L384.0 1097.8L384.9 1095.4L385.8 1093.1L386.6 1090.7L387.5 1088.4L388.3 1086.0L389.1 1083.6L389.9 1081.3L390.7 1078.9L391.5 1076.5L392.3 1074.2L393.0 1071.8L393.8 1069.4L394.5 1067.0L395.3 1064.6L396.0 1062.3L396.8 1059.9L397.5 1057.5L398.3 1055.1L399.0 1052.7L399.7 1050.3L400.4 1047.9L401.2 1045.5L401.9 1043.1L402.6 1040.7L403.3 1038.3L404.0 1035.9L404.7 1033.5L405.5 1031.1L406.2 1028.7L406.9 1026.3L407.6 1023.9L408.3 1021.5L409.0 1019.1L409.7 1016.7L410.4 1014.3L411.1 1011.9L411.8 1009.5L412.5 1007.1L413.2 1004.7L413.9 1002.3L414.6 999.9L415.3 997.5L416.0 995.1L416.7 992.7L417.4 990.3L418.0 987.9L418.7 985.5L419.4 983.1L420.1 980.7L420.8 978.2L421.5 975.8L422.1 973.4L422.8 971.0L423.5 968.6L424.2 966.2L424.8 963.8L425.5 961.4L426.2 959.0L426.8 956.6L427.5 954.1L428.2 951.7L428.8 949.3L429.5 946.9L430.2 944.5L430.8 942.1L431.5 939.7L432.1 937.3L432.8 934.8L433.4 932.4L434.1 930.0L434.7 927.6L435.4 925.2L436.0 922.8L436.7 920.4L437.3 917.9L438.0 915.5L438.6 913.1L439.3 910.7L439.9 908.3L440.6 905.9L441.2 903.4L441.8 901.0L442.5 898.6L443.1 896.2L443.8 893.8L444.4 891.4L445.0 888.9L445.7 886.5L446.3 884.1L446.9 881.7L447.5 879.3L448.2 876.8L448.8 874.4L449.4 872.0L450.1 869.6L450.7 867.2L451.3 864.7L451.9 862.3L452.5 859.9L453.2 857.5L453.8 855.0L454.4 852.6L455.0 850.2L455.7 847.8L456.3 845.4L456.9 842.9L457.5 840.5L458.1 838.1L458.7 835.7L459.3 833.2L460.0 830.8L460.6 828.4L461.2 826.0L461.8 823.5L462.4 821.1L463.0 818.7L463.6 816.3L464.2 813.8L464.8 811.4L465.4 809.0L466.1 806.6L466.7 804.1L467.3 801.7L467.9 799.3L468.5 796.9L469.1 794.4L469.7 792.0L470.3 789.6L470.9 787.2L471.5 784.7L472.1 782.3L472.7 779.9L473.3 777.5L473.9 775.0L474.5 772.6L475.1 770.2L475.7 767.7L476.3 765.3L476.9 762.9L477.5 760.5L478.1 758.0L478.7 755.6L479.3 753.2L479.9 750.8L480.5 748.3L481.1 745.9L481.7 743.5L482.3 741.0L482.9 738.6L483.5 736.2L484.1 733.8L484.7 731.3L485.3 728.9L485.8 726.5L486.4 724.0L487.0 721.6L487.6 719.2L488.2 716.8L488.8 714.3L489.4 711.9L490.0 709.5L490.6 707.0L491.2 704.6L491.8 702.2L492.4 699.8L493.0 697.3L493.6 694.9L494.2 692.5L494.8 690.0L495.4 687.6L496.0 685.2L496.6 682.8L497.2 680.3L497.8 677.9L498.3 675.5L498.9 673.0L499.5 670.6L500.1 668.2L500.7 665.7L501.3 663.3L501.9 660.9L502.5 658.5L503.1 656.0L503.7 653.6L504.3 651.2L504.9 648.7L505.5 646.3L506.1 643.9L506.7 641.5L507.3 639.0L507.9 636.6L508.5 634.2L509.1 631.7L509.7 629.3L510.3 626.9L510.9 624.5L511.5 622.0L512.1 619.6L512.7 617.2L513.3 614.8L513.9 612.3L514.5 609.9L515.1 607.5L515.8 605.0L516.4 602.6L517.0 600.2L517.6 597.8L518.2 595.3L518.8 592.9L519.4 590.5L520.0 588.1L520.6 585.6L521.2 583.2L521.8 580.8L522.5 578.4L523.1 575.9L523.7 573.5L524.3 571.1L524.9 568.7L525.5 566.2L526.2 563.8L526.8 561.4L527.4 559.0L528.0 556.5L528.6 554.1L529.2 551.7L529.9 549.3L530.5 546.8L531.1 544.4L531.7 542.0L532.4 539.6L533.0 537.1L533.6 534.7L534.2 532.3L534.9 529.9L535.5 527.4L536.1 525.0L536.8 522.6L537.4 520.2L538.0 517.8L538.7 515.3L539.3 512.9L540.0 510.5L540.6 508.1L541.2 505.7L541.9 503.2L542.5 500.8L543.2 498.4L543.8 496.0L544.5 493.6L545.1 491.1L545.8 488.7L546.4 486.3L547.1 483.9L547.7 481.5L548.4 479.1L549.0 476.6L549.7 474.2L550.4 471.8L551.0 469.4L551.7 467.0L552.3 464.6L553.0 462.2L553.7 459.8L554.4 457.3L555.0 454.9L555.7 452.5L556.4 450.1L557.1 447.7L557.7 445.3L558.4 442.9L559.1 440.5L559.8 438.1L560.5 435.7L561.2 433.3L561.9 430.9L562.6 428.5L563.3 426.1L564.0 423.7L564.7 421.3L565.4 418.9L566.1 416.5L566.8 414.1L567.5 411.7L568.2 409.3L568.9 406.9L569.7 404.5L570.4 402.1L571.1 399.7L571.8 397.3L572.6 394.9L573.3 392.5L574.0 390.1L574.8 387.7L575.5 385.3L576.2 382.9L577.0 380.6L577.7 378.2L578.5 375.8L579.2 373.4L580.0 371.0L580.8 368.6L581.5 366.3L582.3 363.9L583.0 361.5L583.8 359.1L584.6 356.7L585.4 354.4L586.1 352.0L586.9 349.6L587.7 347.2L588.5 344.9L589.3 342.5L590.1 340.1L590.9 337.8L591.7 335.4L592.5 333.0L593.3 330.7L594.1 328.3L594.9 325.9L595.7 323.6L596.6 321.2L597.4 318.9L598.2 316.5L599.0 314.1L599.9 311.8L600.7 309.4L601.6 307.1L602.4 304.7L603.3 302.4L604.1 300.0L605.0 297.7L605.8 295.3L606.7 293.0L607.6 290.7L608.4 288.3L609.3 286.0L610.2 283.6L611.1 281.3L612.0 279.0L612.8 276.6L613.7 274.3L614.6 272.0L615.5 269.6L616.4 267.3L617.4 265.0L618.3 262.6L619.2 260.3L620.1 258.0L621.0 255.7L622.0 253.4L622.9 251.0L623.9 248.7L624.8 246.4L625.7 244.1L626.7 241.8L627.7 239.5L628.6 237.2L629.6 234.8L630.6 232.5L631.5 230.2L632.5 227.9L633.5 225.6L634.5 223.3L635.5 221.1L636.5 218.8L637.5 216.5L638.5 214.2L639.6 211.9L640.6 209.6L641.6 207.3L642.7 205.1L643.7 202.8L644.8 200.5L645.9 198.3L647.0 196.0L648.1 193.8L649.2 191.5L650.3 189.3L651.4 187.0L652.6 184.8L653.8 182.6L655.0 180.4L656.2 178.3L657.4 176.1L658.7 174.0L660.0 171.8L661.3 169.7L662.7 167.6L664.1 165.5L665.5 163.5L666.9 161.4L668.3 159.4L669.8 157.3L671.2 155.3L672.7 153.3L674.2 151.3L675.7 149.3L677.3 147.3L678.8 145.4L680.4 143.4L681.9 141.4L683.5 139.5L685.1 137.5L686.6 135.6L688.2 133.7L689.8 131.7L691.4 129.8L693.1 127.9L694.7 126.0L696.4 124.1L698.0 122.3L699.7 120.5L701.5 118.7L703.3 116.9L705.1 115.2L707.0 113.5L708.9 111.9L710.8 110.3L712.8 108.8L714.9 107.4L717.0 106.0L719.1 104.6L721.3 103.4L723.5 102.2L725.7 101.1L728.0 100.1L730.3 99.2L732.6 98.3L735.0 97.6L737.4 96.9L739.8 96.4L742.2 96.0L744.7 95.6L747.1 95.4L749.6 95.3L752.1 95.4L754.6 95.5L757.1 95.8L759.6 96.2L762.1 96.7L764.6 97.3L767.0 98.0L769.5 98.8L771.9 99.6L774.2 100.6L776.5 101.6L778.8 102.7L781.0 103.9L783.2 105.1L785.3 106.4L787.4 107.7L789.4 109.1L791.4 110.5L793.4 112.0L795.4 113.4L797.4 114.9L799.4 116.5L801.4 118.0L803.3 119.5L805.3 121.1L807.3 122.7L809.2 124.2L811.1 125.9L813.0 127.5L814.9 129.2L816.7 131.0L818.4 132.8L820.1 134.6L821.8 136.5L823.4 138.4L824.9 140.3L826.4 142.3L827.9 144.3L829.4 146.4L830.9 148.4L832.3 150.4L833.8 152.5L835.2 154.5L836.7 156.6L838.2 158.6L839.6 160.6L841.1 162.6L842.6 164.6L844.1 166.6L845.6 168.6L847.0 170.7L848.5 172.7L849.9 174.7L851.4 176.7L852.8 178.8L854.2 180.9L855.6 182.9L857.0 185.0L858.3 187.1L859.7 189.2L861.0 191.4L862.3 193.5L863.6 195.6L864.9 197.8L866.2 199.9L867.5 202.1L868.8 204.2L870.0 206.4L871.3 208.6L872.5 210.7L873.7 212.9L875.0 215.1L876.2 217.3L877.4 219.5L878.6 221.7L879.8 223.9L881.0 226.1L882.1 228.3L883.3 230.5L884.5 232.7L885.6 234.9L886.8 237.1L887.9 239.4L889.1 241.6L890.2 243.8L891.3 246.0L892.4 248.3L893.5 250.5L894.6 252.8L895.7 255.0L896.8 257.3L897.9 259.5L899.0 261.8L900.1 264.0L901.2 266.3L902.2 268.6L903.3 270.8L904.3 273.1L905.4 275.4L906.5 277.6L907.5 279.9L908.5 282.2L909.6 284.4L910.6 286.7L911.7 289.0L912.7 291.3L913.7 293.6L914.7 295.8L915.8 298.1L916.8 300.4L917.8 302.7L918.8 305.0L919.8 307.3L920.8 309.6L921.8 311.9L922.9 314.1L923.9 316.4L924.9 318.7L925.9 321.0L926.8 323.3L927.8 325.6L928.8 327.9L929.8 330.2L930.8 332.5L931.8 334.8L932.8 337.1L933.8 339.4L934.7 341.7L935.7 344.0L936.7 346.3L937.7 348.6L938.6 350.9L939.6 353.2L940.6 355.5L941.5 357.8L942.5 360.1L943.4 362.4L944.4 364.8L945.4 367.1L946.3 369.4L947.3 371.7L948.2 374.0L949.2 376.3L950.1 378.6L951.1 380.9L952.0 383.3L952.9 385.6L953.9 387.9L954.8 390.2L955.7 392.5L956.7 394.8L957.6 397.2L958.5 399.5L959.5 401.8L960.4 404.1L961.3 406.5L962.2 408.8L963.2 411.1L964.1 413.4L965.0 415.7L965.9 418.1L966.8 420.4L967.7 422.7L968.7 425.1L969.6 427.4L970.5 429.7L971.4 432.0L972.3 434.4L973.2 436.7L974.1 439.0L975.0 441.4L975.9 443.7L976.8 446.0L977.7 448.4L978.6 450.7L979.5 453.0L980.4 455.4L981.3 457.7L982.2 460.0L983.0 462.4L983.9 464.7L984.8 467.1L985.7 469.4L986.6 471.7L987.5 474.1L988.3 476.4L989.2 478.7L990.1 481.1L991.0 483.4L991.9 485.8L992.7 488.1L993.6 490.5L994.5 492.8L995.4 495.1L996.2 497.5L997.1 499.8L998.0 502.2L998.8 504.5L999.7 506.9L1000.6 509.2L1001.4 511.6L1002.3 513.9L1003.1 516.3L1004.0 518.6L1004.9 521.0L1005.7 523.3L1006.6 525.7L1007.4 528.0L1008.3 530.4L1009.2 532.7L1010.0 535.1L1010.9 537.4L1011.7 539.8L1012.6 542.1L1013.4 544.5L1014.3 546.8L1015.1 549.2L1016.0 551.5L1016.8 553.9L1017.7 556.2L1018.5 558.6L1019.4 560.9L1020.2 563.3L1021.1 565.6L1021.9 568.0L1022.7 570.3L1023.6 572.7L1024.4 575.1L1025.3 577.4L1026.1 579.8L1027.0 582.1L1027.8 584.5L1028.6 586.8L1029.5 589.2L1030.3 591.5L1031.2 593.9L1032.0 596.3L1032.8 598.6L1033.7 601.0L1034.5 603.3L1035.3 605.7L1036.2 608.1L1037.0 610.4L1037.8 612.8L1038.7 615.1L1039.5 617.5L1040.3 619.8L1041.2 622.2L1042.0 624.6L1042.9 626.9L1043.7 629.3L1044.5 631.6L1045.4 634.0L1046.2 636.4L1047.0 638.7L1047.9 641.1L1048.7 643.4L1049.5 645.8L1050.3 648.2L1051.2 650.5L1052.0 652.9L1052.8 655.2L1053.7 657.6L1054.5 660.0L1055.3 662.3L1056.2 664.7L1057.0 667.0L1057.8 669.4L1058.7 671.8L1059.5 674.1L1060.3 676.5L1061.2 678.8L1062.0 681.2L1062.8 683.6L1063.7 685.9L1064.5 688.3L1065.3 690.6L1066.2 693.0L1067.0 695.4L1067.8 697.7L1068.7 700.1L1069.5 702.4L1070.3 704.8L1071.2 707.2L1072.0 709.5L1072.8 711.9L1073.7 714.2L1074.5 716.6L1075.4 719.0L1076.2 721.3L1077.0 723.7L1077.9 726.0L1078.7 728.4L1079.5 730.7L1080.4 733.1L1081.2 735.5L1082.1 737.8L1082.9 740.2L1083.7 742.5L1084.6 744.9L1085.4 747.2L1086.3 749.6L1087.1 752.0L1088.0 754.3L1088.8 756.7L1089.6 759.0L1090.5 761.4L1091.3 763.7L1092.2 766.1L1093.0 768.4L1093.9 770.8L1094.7 773.1L1095.6 775.5L1096.4 777.9L1097.3 780.2L1098.1 782.6L1099.0 784.9L1099.8 787.3L1100.7 789.6L1101.5 792.0L1102.4 794.3L1103.3 796.7L1104.1 799.0L1105.0 801.4L1105.8 803.7L1106.7 806.1L1107.6 808.4L1108.4 810.8L1109.3 813.1L1110.1 815.5L1111.0 817.8L1111.9 820.2L1112.7 822.5L1113.6 824.8L1114.5 827.2L1115.3 829.5L1116.2 831.9L1117.1 834.2L1118.0 836.6L1118.8 838.9L1119.7 841.3L1120.6 843.6L1121.5 845.9L1122.4 848.3L1123.2 850.6L1124.1 853.0L1125.0 855.3L1125.9 857.6L1126.8 860.0L1127.7 862.3L1128.5 864.7L1129.4 867.0L1130.3 869.3L1131.2 871.7L1132.1 874.0L1133.0 876.3L1133.9 878.7L1134.8 881.0L1135.7 883.3L1136.6 885.7L1137.5 888.0L1138.4 890.3L1139.3 892.7L1140.2 895.0L1141.1 897.3L1142.0 899.6L1142.9 902.0L1143.9 904.3L1144.8 906.6L1145.7 909.0L1146.6 911.3L1147.5 913.6L1148.4 915.9L1149.4 918.3L1150.3 920.6L1151.2 922.9L1152.1 925.2L1153.1 927.5L1154.0 929.9L1154.9 932.2L1155.9 934.5L1156.8 936.8L1157.7 939.1L1158.7 941.4L1159.6 943.8L1160.6 946.1L1161.5 948.4L1162.5 950.7L1163.4 953.0L1164.4 955.3L1165.3 957.6L1166.3 960.0L1167.2 962.3L1168.2 964.6L1169.1 966.9L1170.1 969.2L1171.1 971.5L1172.0 973.8L1173.0 976.1L1174.0 978.4L1174.9 980.7L1175.9 983.0L1176.9 985.3L1177.9 987.6L1178.9 989.9L1179.8 992.2L1180.8 994.5L1181.8 996.8L1182.8 999.1L1183.8 1001.4L1184.8 1003.7L1185.8 1006.0L1186.8 1008.3L1187.8 1010.6L1188.8 1012.8L1189.8 1015.1L1190.8 1017.4L1191.8 1019.7L1192.8 1022.0L1193.8 1024.3L1194.9 1026.6L1195.9 1028.8L1196.9 1031.1L1197.9 1033.4L1198.9 1035.7L1200.0 1038.0L1201.0 1040.2L1202.1 1042.5L1203.1 1044.8L1204.1 1047.1L1205.2 1049.3L1206.2 1051.6L1207.3 1053.9L1208.4 1056.1L1209.4 1058.4L1210.5 1060.6L1211.6 1062.9L1212.7 1065.2L1213.7 1067.4L1214.8 1069.7L1215.9 1071.9L1217.0 1074.2L1218.1 1076.4L1219.2 1078.6L1220.4 1080.9L1221.5 1083.1L1222.6 1085.3L1223.7 1087.6L1224.9 1089.8L1226.0 1092.0L1227.2 1094.3L1228.3 1096.5L1229.5 1098.7L1230.7 1100.9L1231.8 1103.1L1233.0 1105.3L1234.2 1107.5L1235.4 1109.7L1236.6 1111.9L1237.8 1114.1L1239.1 1116.3L1240.3 1118.5L1241.5 1120.6L1242.8 1122.8L1244.0 1125.0L1245.3 1127.2L1246.6 1129.3L1247.8 1131.5L1249.1 1133.6L1250.4 1135.8L1251.7 1137.9L1253.0 1140.1L1254.3 1142.2L1255.6 1144.4L1257.0 1146.5L1258.3 1148.6L1259.6 1150.7L1261.0 1152.8L1262.3 1155.0L1263.7 1157.1L1265.1 1159.2L1266.4 1161.3L1267.8 1163.3L1269.2 1165.4L1270.6 1167.5L1272.0 1169.6L1273.4 1171.7L1274.8 1173.7L1276.3 1175.8L1277.7 1177.8L1279.2 1179.8L1280.6 1181.9L1282.1 1183.9L1283.6 1185.9L1285.1 1187.9L1286.6 1189.9L1288.1 1191.8L1289.7 1193.8L1291.2 1195.7L1292.8 1197.7L1294.4 1199.6L1295.9 1201.5L1297.6 1203.4L1299.2 1205.3L1300.8 1207.2L1302.5 1209.0L1304.2 1210.9L1305.8 1212.7L1307.6 1214.5L1309.3 1216.3L1311.0 1218.0L1312.8 1219.8L1314.6 1221.5L1316.4 1223.2L1318.2 1224.9L1320.1 1226.6L1321.9 1228.3L1323.8 1229.9L1325.8 1231.5L1327.7 1233.1L1329.7 1234.7L1331.6 1236.2L1333.6 1237.8L1335.7 1239.3L1337.7 1240.7L1339.8 1242.2L1341.9 1243.6L1344.0 1245.0L1346.1 1246.3L1348.3 1247.6L1350.5 1248.9L1352.7 1250.2L1354.9 1251.4L1357.1 1252.5L1359.3 1253.6L1361.6 1254.7L1363.9 1255.8L1366.2 1256.7L1368.5 1257.7L1370.8 1258.6L1373.2 1259.4L1375.5 1260.2L1377.9 1260.9L1380.3 1261.6L1382.7 1262.2L1385.1 1262.8L1387.6 1263.3L1390.0 1263.8L1392.5 1264.2L1395.0 1264.5L1397.4 1264.7L1399.9 1264.9L1402.4 1265.1L1404.9 1265.1L1407.4 1265.1L1409.9 1265.1L1412.3 1264.9L1414.8 1264.7L1417.3 1264.4L1419.7 1264.0L1422.2 1263.6L1424.6 1263.1L1427.0 1262.5L1429.5 1261.9L1431.9 1261.2L1434.3 1260.4L1436.6 1259.6L1439.0 1258.8L1441.4 1257.9L1443.7 1257.0L1446.1 1256.0L1448.4 1255.0L1450.7 1254.0L1453.0 1253.0L1455.3 1252.0L1457.6 1250.9L1459.9 1249.8L1462.1 1248.7L1464.4 1247.6L1466.6 1246.4L1468.8 1245.3L1471.0 1244.1L1473.2 1242.8L1475.3 1241.6L1477.5 1240.3L1479.6 1239.0L1481.7 1237.6L1483.8 1236.3L1485.8 1234.9L1487.9 1233.5L1489.9 1232.0L1491.9 1230.5L1493.8 1229.0L1495.8 1227.5L1497.7 1225.9L1499.6 1224.3L1501.5 1222.7L1503.3 1221.0L1505.1 1219.3L1506.9 1217.6L1508.7 1215.8L1510.4 1214.0L1512.1 1212.1L1513.8 1210.3L1515.4 1208.4L1517.1 1206.5L1518.6 1204.5L1520.2 1202.5L1521.7 1200.5L1523.2 1198.5L1524.7 1196.5L1526.2 1194.4L1527.6 1192.3L1528.9 1190.2L1530.3 1188.1L1531.6 1186.0L1532.9 1183.8L1534.2 1181.7L1535.4 1179.5L1536.6 1177.3L1537.8 1175.1L1539.0 1172.9L1540.1 1170.7L1541.2 1168.5L1542.3 1166.2L1543.4 1164.0L1544.5 1161.7L1545.5 1159.5L1546.6 1157.2L1547.6 1155.0L1548.7 1152.7L1549.7 1150.4L1550.7 1148.1L1551.7 1145.8L1552.7 1143.6L1553.7 1141.3L1554.7 1139.0L1555.7 1136.7L1556.6 1134.4L1557.6 1132.1L1558.5 1129.7L1559.5 1127.4L1560.4 1125.1L1561.4 1122.8L1562.3 1120.5L1563.2 1118.1L1564.1 1115.8L1565.0 1113.5L1565.9 1111.1L1566.8 1108.8L1567.7 1106.4L1568.6 1104.1L1569.4 1101.7L1570.3 1099.4L1571.2 1097.1L1572.0 1094.7L1572.9 1092.3L1573.7 1090.0L1574.6 1087.6L1575.4 1085.3L1576.3 1082.9L1577.1 1080.6L1577.9 1078.2L1578.7 1075.8L1579.6 1073.5L1580.4 1071.1L1581.2 1068.7L1582.0 1066.4L1582.8 1064.0L1583.6 1061.6L1584.4 1059.3L1585.1 1056.9L1585.9 1054.5L1586.7 1052.1L1587.5 1049.8L1588.2 1047.4L1589.0 1045.0L1589.8 1042.6L1590.5 1040.2L1591.3 1037.9L1592.0 1035.5L1592.8 1033.1L1593.5 1030.7L1594.3 1028.3L1595.0 1025.9L1595.7 1023.5L1596.4 1021.1L1597.2 1018.7L1597.9 1016.4L1598.6 1014.0L1599.3 1011.6L1600.0 1009.2L1600.7 1006.8L1601.4 1004.4L1602.1 1002.0L1602.8 999.6L1603.5 997.2L1604.2 994.8L1604.9 992.4L1605.6 990.0L1606.3 987.5L1607.0 985.1L1607.6 982.7L1608.3 980.3L1609.0 977.9L1609.6 975.5L1610.3 973.1L1611.0 970.7L1611.6 968.3L1612.3 965.9L1613.0 963.4L1613.6 961.0"/>
</g>
<g stroke="#000" fill="none" shape-rendering="crispEdges">
<path stroke-width="2" d="M183.0 33.3H205M183.0 81.1H205M183.0 129.0H205M183.0 224.6H205M183.0 272.5H205M183.0 320.3H205M183.0 368.1H205M183.0 463.8H205M183.0 511.6H205M183.0 559.4H205M183.0 607.3H205M183.0 702.9H205M183.0 750.8H205M183.0 798.6H205M183.0 846.4H205M183.0 942.1H205M183.0 989.9H205M183.0 1037.7H205M183.0 1085.6H205M183.0 1181.2H205M183.0 1229.1H205M183.0 1276.9H205M183.0 1324.7H205"/>
<path stroke-width="2" d="M248.0 1341.5V1320M438.5 1341.5V1320M533.8 1341.5V1320M629.0 1341.5V1320M724.2 1341.5V1320M914.8 1341.5V1320M1010.0 1341.5V1320M1105.2 1341.5V1320M1200.5 1341.5V1320M1391.0 1341.5V1320M1486.2 1341.5V1320M1581.5 1341.5V1320"/>
<path stroke-width="7.5" stroke-linecap="round" d="M184.0 176.8H217.5M184.0 416.0H217.5M184.0 655.1H217.5M184.0 894.2H217.5M184.0 1133.4H217.5M343.5 1340.5V1307.5M820.1 1340.5V1307.5M1296.2 1340.5V1307.5"/>
<path stroke-width="7.5" stroke-linecap="round" stroke-linejoin="round" d="M183.0 30.5V1341.5H1613.5"/>
</g>
<g filter="url(#crisp)">
<text class="tk" transform="translate(162.50 193.80) scale(1 1.045)" text-anchor="end">1.6</text>
<text class="tk" transform="translate(162.50 432.80) scale(1 1.045)" text-anchor="end">1.5</text>
<text class="tk" transform="translate(162.50 672.80) scale(1 1.045)" text-anchor="end">1.4</text>
<text class="tk" transform="translate(162.50 911.80) scale(1 1.045)" text-anchor="end">1.3</text>
<text class="tk" transform="translate(162.50 1150.80) scale(1 1.045)" text-anchor="end">1.2</text>
<text class="tk" transform="translate(342.70 1392.80) scale(1 1.045)" text-anchor="middle">1.6</text>
<text class="tk" transform="translate(820.40 1392.80) scale(1 1.045)" text-anchor="middle">1.8</text>
<text class="tk" transform="translate(1294.70 1392.80) scale(1 1.045)" text-anchor="middle">2</text>
<text class="ttl" transform="translate(899.00 1451.60) scale(1 1.045)" text-anchor="middle">Time</text>
<text class="ttl" transform="translate(69.30 685.20) rotate(-90) scale(1 1.045)" text-anchor="middle">Cl</text>
</g>
<rect x="1100.2" y="274.4" width="512.1" height="337.4" fill="#fff" stroke="#000" stroke-width="2.6" shape-rendering="crispEdges"/>
<g filter="url(#crisp)">
<text class="lg" transform="translate(1410.70 378.00) scale(1 1.035)" text-anchor="start">T/100</text>
<text class="lg" transform="translate(1410.70 440.00) scale(1 1.035)" text-anchor="start">T/200</text>
<text class="lg" transform="translate(1410.70 501.00) scale(1 1.035)" text-anchor="start">T/500</text>
<text class="lg" transform="translate(1410.70 562.00) scale(1 1.035)" text-anchor="start">T/1000</text>
</g>
<line x1="1142" y1="363.5" x2="1373" y2="363.5" stroke="#767676" stroke-width="3" shape-rendering="crispEdges"/>
<line x1="1142" y1="425.0" x2="1373" y2="425.0" stroke="#00cc00" stroke-width="2" shape-rendering="crispEdges"/>
<line x1="1142" y1="486.0" x2="1373" y2="486.0" stroke="#2222f4" stroke-width="2" shape-rendering="crispEdges"/>
<line x1="1142" y1="547.0" x2="1373" y2="547.0" stroke="#f40000" stroke-width="2" shape-rendering="crispEdges"/>
</svg>
</body>
</html>
